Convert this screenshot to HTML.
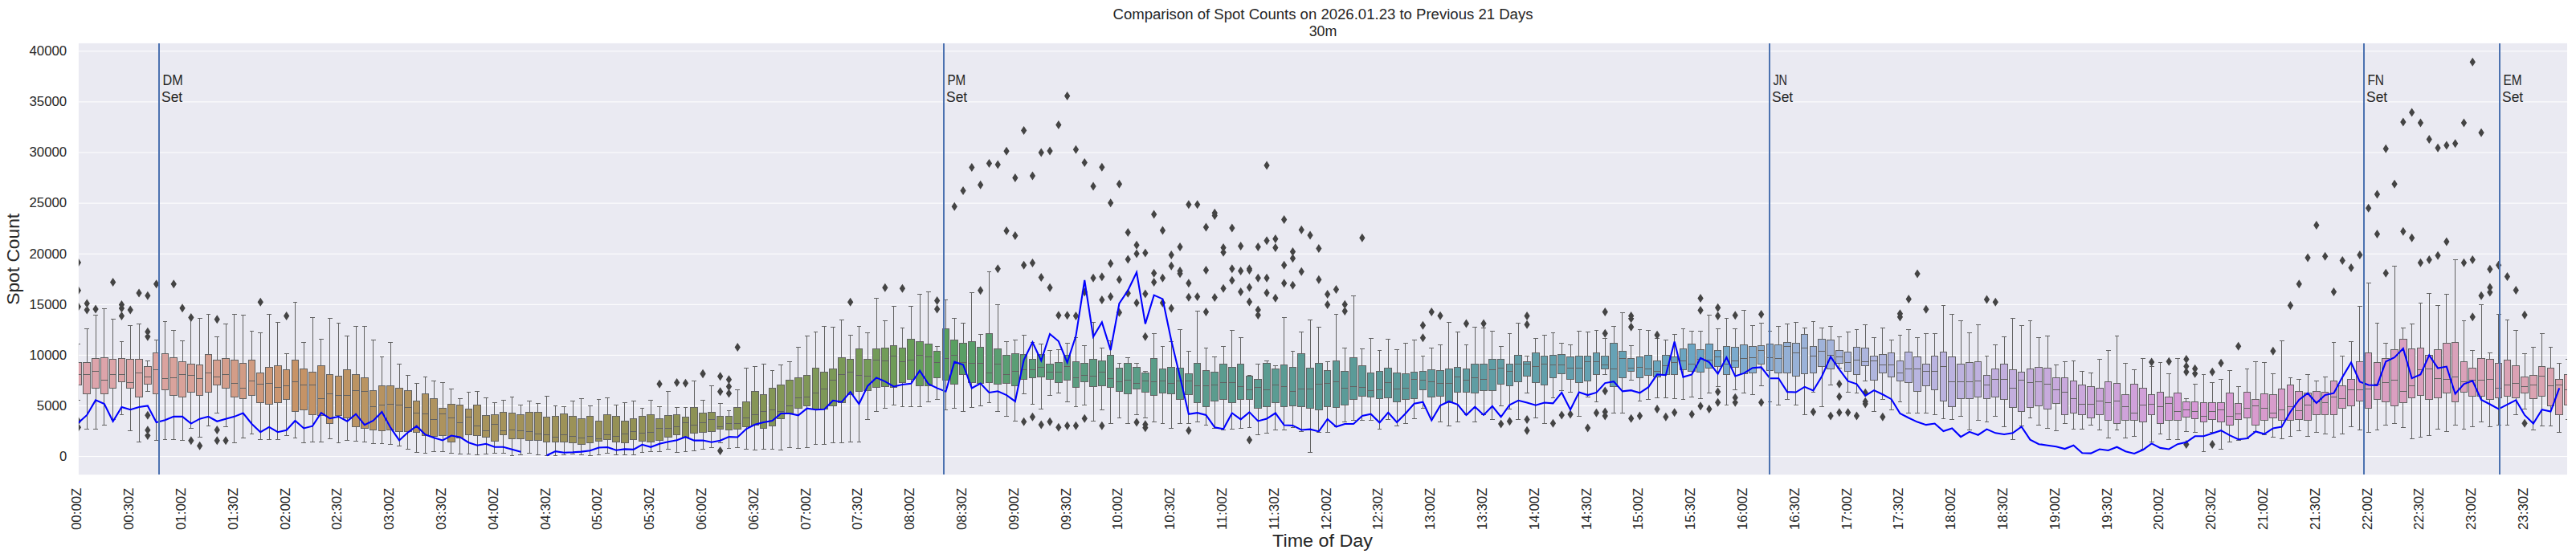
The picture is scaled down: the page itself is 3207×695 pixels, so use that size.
<!DOCTYPE html><html><head><meta charset="utf-8"><title>Spot Counts</title><style>html,body{margin:0;padding:0;background:#fff}body{width:3207px;height:695px;position:relative;overflow:hidden}</style></head><body><svg width="3207" height="695" viewBox="0 0 3207 695" style="position:absolute;left:0;top:0;font-family:'Liberation Sans',sans-serif">
<rect x="0" y="0" width="3207" height="695" fill="#fff"/>
<rect x="97.9" y="53.9" width="3098.1" height="537.3000000000001" fill="#eaeaf2"/>
<clipPath id="cp"><rect x="97.9" y="53.9" width="3098.1" height="537.3000000000001"/></clipPath>
<path d="M97.9 568.60H3196.0M97.9 505.50H3196.0M97.9 442.40H3196.0M97.9 379.30H3196.0M97.9 316.20H3196.0M97.9 253.10H3196.0M97.9 190.00H3196.0M97.9 126.90H3196.0M97.9 63.80H3196.0" stroke="#fff" stroke-width="1.0" fill="none"/>
<g clip-path="url(#cp)">
<path d="M97.45 451.86V428.21M94.55 428.21h5.80M97.45 479.45V498.37M94.55 498.37h5.80M108.25 451.86V409.69M105.35 409.69h5.80M108.25 490.49V534.64M105.35 534.64h5.80M119.05 446.74V392.74M116.15 392.74h5.80M119.05 483.00V534.64M116.15 534.64h5.80M129.85 445.55V384.46M126.95 384.46h5.80M129.85 490.49V529.51M126.95 529.51h5.80M140.65 447.53V397.47M137.75 397.47h5.80M140.65 483.00V522.81M137.75 522.81h5.80M151.45 446.34V425.45M148.55 425.45h5.80M151.45 475.91V516.90M148.55 516.90h5.80M162.25 447.53V405.35M159.35 405.35h5.80M162.25 483.00V536.21M159.35 536.21h5.80M173.05 447.53V403.38M170.15 403.38h5.80M173.05 494.04V550.01M170.15 550.01h5.80M183.85 456.59V449.10M180.95 449.10h5.80M183.85 478.27V487.34M180.95 487.34h5.80M194.65 439.25V423.09M191.75 423.09h5.80M194.65 490.49V548.43M191.75 548.43h5.80M205.45 440.43V400.23M202.55 400.23h5.80M205.45 485.36V547.25M202.55 547.25h5.80M216.25 445.55V411.26M213.35 411.26h5.80M216.25 492.07V547.25M213.35 547.25h5.80M227.05 450.28V424.27M224.15 424.27h5.80M227.05 494.04V548.43M224.15 548.43h5.80M237.85 453.44V394.71M234.95 394.71h5.80M237.85 488.12V533.45M234.95 533.45h5.80M248.65 454.62V396.28M245.75 396.28h5.80M248.65 492.07V544.49M245.75 544.49h5.80M259.45 441.61V391.16M256.55 391.16h5.80M259.45 488.12V530.69M256.55 530.69h5.80M270.25 448.31V419.93M267.35 419.93h5.80M270.25 479.45V514.93M267.35 514.93h5.80M281.05 446.74V403.38M278.15 403.38h5.80M281.05 483.00V531.88M278.15 531.88h5.80M291.85 448.31V391.16M288.95 391.16h5.80M291.85 494.04V551.19M288.95 551.19h5.80M302.65 452.26V392.74M299.75 392.74h5.80M302.65 496.01V545.28M299.75 545.28h5.80M313.45 448.31V412.45M310.55 412.45h5.80M313.45 492.07V540.55M310.55 540.55h5.80M324.25 464.47V414.02M321.35 414.02h5.80M324.25 501.13V547.64M321.35 547.64h5.80M335.05 457.77V391.95M332.15 391.95h5.80M335.05 503.10V547.25M332.15 547.25h5.80M345.85 455.41V401.41M342.95 401.41h5.80M345.85 501.92V547.25M342.95 547.25h5.80M356.65 460.53V440.04M353.75 440.04h5.80M356.65 497.19V542.52M353.75 542.52h5.80M367.45 448.31V376.18M364.55 376.18h5.80M367.45 512.96V545.67M364.55 545.67h5.80M378.25 459.35V426.24M375.35 426.24h5.80M378.25 510.20V551.19M375.35 551.19h5.80M389.05 463.29V395.50M386.15 395.50h5.80M389.05 516.90V550.40M386.15 550.40h5.80M399.85 455.41V422.30M396.95 422.30h5.80M399.85 517.69V550.40M396.95 550.40h5.80M410.65 466.45V396.68M407.75 396.68h5.80M410.65 527.15V546.46M407.75 546.46h5.80M421.45 468.42V402.59M418.55 402.59h5.80M421.45 517.69V551.19M418.55 551.19h5.80M432.25 460.14V418.36M429.35 418.36h5.80M432.25 520.84V548.43M429.35 548.43h5.80M443.05 466.45V406.53M440.15 406.53h5.80M443.05 531.88V549.22M440.15 549.22h5.80M453.85 470.39V406.53M450.95 406.53h5.80M453.85 533.45V550.40M450.95 550.40h5.80M464.65 486.15V423.48M461.75 423.48h5.80M464.65 535.03V552.37M461.75 552.37h5.80M475.45 480.24V444.37M472.55 444.37h5.80M475.45 536.21V552.37M472.55 552.37h5.80M486.25 480.24V426.24M483.35 426.24h5.80M486.25 535.03V553.55M483.35 553.55h5.80M497.05 483.39V453.44M494.15 453.44h5.80M497.05 537.00V555.13M494.15 555.13h5.80M507.85 486.15V467.63M504.95 467.63h5.80M507.85 537.00V559.07M504.95 559.07h5.80M518.65 499.16V477.48M515.75 477.48h5.80M518.65 538.18V563.41M515.75 563.41h5.80M529.45 490.49V469.60M526.55 469.60h5.80M529.45 542.12V564.20M526.55 564.20h5.80M540.25 496.40V474.33M537.35 474.33h5.80M540.25 543.31V562.23M537.35 562.23h5.80M551.05 508.23V476.30M548.15 476.30h5.80M551.05 542.52V562.23M548.15 562.23h5.80M561.85 503.10V484.58M558.95 484.58h5.80M561.85 550.01V564.20M558.95 564.20h5.80M572.65 504.28V496.40M569.75 496.40h5.80M572.65 545.28V565.38M569.75 565.38h5.80M583.45 509.01V488.52M580.55 488.52h5.80M583.45 541.34V565.38M580.55 565.38h5.80M594.25 504.28V487.34M591.35 487.34h5.80M594.25 542.52V566.17M591.35 566.17h5.80M605.05 517.29V495.61M602.15 495.61h5.80M605.05 544.49V565.38M602.15 565.38h5.80M615.85 516.50V501.59M612.95 501.59h5.80M615.85 549.58V564.03M612.95 564.03h5.80M626.65 513.47V498.33M623.75 498.33h5.80M626.65 541.19V564.03M623.75 564.03h5.80M637.45 514.40V494.37M634.55 494.37h5.80M637.45 546.32V567.29M634.55 567.29h5.80M648.25 516.50V504.39M645.35 504.39h5.80M648.25 546.32V566.35M645.35 566.35h5.80M659.05 513.47V499.26M656.15 499.26h5.80M659.05 548.18V564.03M656.15 564.03h5.80M669.85 513.47V502.52M666.95 502.52h5.80M669.85 548.18V566.35M666.95 566.35h5.80M680.65 519.53V493.21M677.75 493.21h5.80M680.65 550.28V567.29M677.75 567.29h5.80M691.45 518.36V505.32M688.55 505.32h5.80M691.45 550.28V567.29M688.55 567.29h5.80M702.25 515.57V506.48M699.35 506.48h5.80M702.25 550.28V566.35M699.35 566.35h5.80M713.05 518.36V499.26M710.15 499.26h5.80M713.05 551.21V565.19M710.15 565.19h5.80M723.85 521.39V496.47M720.95 496.47h5.80M723.85 553.31V566.35M720.95 566.35h5.80M734.65 518.36V505.32M731.75 505.32h5.80M734.65 551.21V567.29M731.75 567.29h5.80M745.45 524.42V497.40M742.55 497.40h5.80M745.45 549.35V566.35M742.55 566.35h5.80M756.25 516.50V495.30M753.35 495.30h5.80M756.25 547.25V564.03M753.35 564.03h5.80M767.05 518.36V504.39M764.15 504.39h5.80M767.05 550.28V566.35M764.15 566.35h5.80M777.85 524.42V501.36M774.95 501.36h5.80M777.85 551.21V566.35M774.95 566.35h5.80M788.65 521.39V499.26M785.75 499.26h5.80M788.65 547.25V566.35M785.75 566.35h5.80M799.45 518.36V508.58M796.55 508.58h5.80M799.45 549.35V563.33M796.55 563.33h5.80M810.25 516.50V498.33M807.35 498.33h5.80M810.25 550.28V562.39M807.35 562.39h5.80M821.05 521.39V506.48M818.15 506.48h5.80M821.05 548.18V562.39M818.15 562.39h5.80M831.85 517.43V487.38M828.95 487.38h5.80M831.85 544.22V559.37M828.95 559.37h5.80M842.65 516.50V507.42M839.75 507.42h5.80M842.65 541.19V563.33M839.75 563.33h5.80M853.45 519.53V507.42M850.55 507.42h5.80M853.45 544.22V562.39M850.55 562.39h5.80M864.25 507.65V474.34M861.35 474.34h5.80M864.25 539.33V561.46M861.35 561.46h5.80M875.05 514.14V498.37M872.15 498.37h5.80M875.05 538.97V559.07M872.15 559.07h5.80M885.85 513.35V480.24M882.95 480.24h5.80M885.85 537.00V557.10M882.95 557.10h5.80M896.65 518.08V502.31M893.75 502.31h5.80M896.65 534.24V551.19M893.75 551.19h5.80M907.45 518.08V511.38M904.55 511.38h5.80M907.45 535.42V558.28M904.55 558.28h5.80M918.25 507.44V485.36M915.35 485.36h5.80M918.25 534.24V557.10M915.35 557.10h5.80M929.05 500.34V458.56M926.15 458.56h5.80M929.05 531.09V559.07M926.15 559.07h5.80M939.85 487.34V456.59M936.95 456.59h5.80M939.85 529.12V560.26M936.95 560.26h5.80M950.65 491.28V453.44M947.75 453.44h5.80M950.65 533.06V559.07M947.75 559.07h5.80M961.45 483.39V461.32M958.55 461.32h5.80M961.45 530.30V559.07M958.55 559.07h5.80M972.25 479.45V454.23M969.35 454.23h5.80M972.25 521.23V560.26M969.35 560.26h5.80M983.05 473.54V450.28M980.15 450.28h5.80M983.05 514.93V557.10M980.15 557.10h5.80M993.85 470.39V432.55M990.95 432.55h5.80M993.85 508.23V558.28M990.95 558.28h5.80M1004.65 467.63V418.36M1001.75 418.36h5.80M1004.65 505.07V557.10M1001.75 557.10h5.80M1015.45 458.56V413.63M1012.55 413.63h5.80M1015.45 509.01V553.16M1012.55 553.16h5.80M1026.25 463.29V406.53M1023.35 406.53h5.80M1026.25 509.01V553.16M1023.35 553.16h5.80M1037.05 459.35V407.32M1034.15 407.32h5.80M1037.05 505.07V551.19M1034.15 551.19h5.80M1047.85 445.55V398.65M1044.95 398.65h5.80M1047.85 501.13V551.19M1044.95 551.19h5.80M1058.65 447.53V417.57M1055.75 417.57h5.80M1058.65 491.28V550.01M1055.75 550.01h5.80M1069.45 434.52V406.53M1066.55 406.53h5.80M1069.45 487.34V550.01M1066.55 550.01h5.80M1080.25 447.53V414.42M1077.35 414.42h5.80M1080.25 486.15V522.02M1077.35 522.02h5.80M1091.05 434.52V371.06M1088.15 371.06h5.80M1091.05 482.21V512.17M1088.15 512.17h5.80M1101.85 433.73V399.44M1098.95 399.44h5.80M1101.85 481.42V508.23M1098.95 508.23h5.80M1112.65 430.58V381.31M1109.75 381.31h5.80M1112.65 482.21V504.28M1109.75 504.28h5.80M1123.45 433.73V408.50M1120.55 408.50h5.80M1123.45 476.30V506.26M1120.55 506.26h5.80M1134.25 422.30V381.31M1131.35 381.31h5.80M1134.25 472.36V506.26M1131.35 506.26h5.80M1145.05 425.45V366.33M1142.15 366.33h5.80M1145.05 480.24V506.26M1142.15 506.26h5.80M1155.85 428.21V363.57M1152.95 363.57h5.80M1155.85 480.24V500.34M1152.95 500.34h5.80M1166.65 437.28V431.36M1163.75 431.36h5.80M1166.65 470.39V497.19M1163.75 497.19h5.80M1177.45 409.29V373.42M1174.55 373.42h5.80M1177.45 473.54V510.99M1174.55 510.99h5.80M1188.25 423.48V396.68M1185.35 396.68h5.80M1188.25 478.27V508.23M1185.35 508.23h5.80M1199.05 427.42V402.59M1196.15 402.59h5.80M1199.05 466.45V512.96M1196.15 512.96h5.80M1209.85 425.45V364.36M1206.95 364.36h5.80M1209.85 476.30V507.04M1206.95 507.04h5.80M1220.65 432.55V416.39M1217.75 416.39h5.80M1220.65 477.48V505.07M1217.75 505.07h5.80M1231.45 415.20V338.34M1228.55 338.34h5.80M1231.45 476.30V501.13M1228.55 501.13h5.80M1242.25 434.52V379.34M1239.35 379.34h5.80M1242.25 478.27V512.17M1239.35 512.17h5.80M1253.05 442.40V425.45M1250.15 425.45h5.80M1253.05 477.48V518.87M1250.15 518.87h5.80M1263.85 440.43V423.48M1260.95 423.48h5.80M1263.85 480.24V524.78M1260.95 524.78h5.80M1274.65 441.22V417.18M1271.75 417.18h5.80M1274.65 472.36V490.09M1271.75 490.09h5.80M1285.45 447.13V426.24M1282.55 426.24h5.80M1285.45 470.39V503.10M1282.55 503.10h5.80M1296.25 441.61V428.21M1293.35 428.21h5.80M1296.25 469.20V509.01M1293.35 509.01h5.80M1307.05 453.44V436.09M1304.15 436.09h5.80M1307.05 472.36V492.46M1304.15 492.46h5.80M1317.85 451.47V435.31M1314.95 435.31h5.80M1317.85 476.30V489.31M1314.95 489.31h5.80M1328.65 442.40V427.42M1325.75 427.42h5.80M1328.65 473.54V500.34M1325.75 500.34h5.80M1339.45 450.28V420.33M1336.55 420.33h5.80M1339.45 482.21V506.26M1336.55 506.26h5.80M1350.25 452.26V430.18M1347.35 430.18h5.80M1350.25 475.51V504.28M1347.35 504.28h5.80M1361.05 447.53V401.41M1358.15 401.41h5.80M1361.05 481.42V524.78M1358.15 524.78h5.80M1371.85 449.10V433.34M1368.95 433.34h5.80M1371.85 480.24V510.99M1368.95 510.99h5.80M1382.65 442.40V424.27M1379.75 424.27h5.80M1382.65 482.21V527.93M1379.75 527.93h5.80M1393.45 458.17V452.26M1390.55 452.26h5.80M1393.45 487.34V520.84M1390.55 520.84h5.80M1404.25 452.26V445.16M1401.35 445.16h5.80M1404.25 490.09V527.93M1401.35 527.93h5.80M1415.05 457.38V452.26M1412.15 452.26h5.80M1415.05 484.18V516.90M1412.15 516.90h5.80M1425.85 464.08V462.11M1422.95 462.11h5.80M1425.85 488.12V520.05M1422.95 520.05h5.80M1436.65 446.34V415.20M1433.75 415.20h5.80M1436.65 492.07V525.96M1433.75 525.96h5.80M1447.45 459.35V431.36M1444.55 431.36h5.80M1447.45 489.31V527.15M1444.55 527.15h5.80M1458.25 457.38V425.45M1455.35 425.45h5.80M1458.25 490.09V533.06M1455.35 533.06h5.80M1469.05 458.17V410.47M1466.15 410.47h5.80M1469.05 497.19V527.15M1466.15 527.15h5.80M1479.85 465.26V437.28M1476.95 437.28h5.80M1479.85 491.28V527.15M1476.95 527.15h5.80M1490.65 452.26V387.61M1487.75 387.61h5.80M1490.65 501.13V525.18M1487.75 525.18h5.80M1501.45 461.32V433.34M1498.55 433.34h5.80M1501.45 506.26V529.91M1498.55 529.91h5.80M1512.25 463.29V444.37M1509.35 444.37h5.80M1512.25 499.16V533.06M1509.35 533.06h5.80M1523.05 453.44V431.36M1520.15 431.36h5.80M1523.05 497.98V535.03M1520.15 535.03h5.80M1533.85 457.38V411.26M1530.95 411.26h5.80M1533.85 501.13V534.24M1530.95 534.24h5.80M1544.65 453.44V420.33M1541.75 420.33h5.80M1544.65 497.19V533.06M1541.75 533.06h5.80M1555.45 468.42V467.23M1552.55 467.23h5.80M1555.45 497.98V532.27M1552.55 532.27h5.80M1566.25 472.36V453.44M1563.35 453.44h5.80M1566.25 508.23V541.34M1563.35 541.34h5.80M1577.05 452.26V449.10M1574.15 449.10h5.80M1577.05 506.26V539.36M1574.15 539.36h5.80M1587.85 459.35V455.41M1584.95 455.41h5.80M1587.85 501.13V535.03M1584.95 535.03h5.80M1598.65 454.23V395.50M1595.75 395.50h5.80M1598.65 506.26V535.03M1595.75 535.03h5.80M1609.45 457.38V437.28M1606.55 437.28h5.80M1609.45 505.07V532.27M1606.55 532.27h5.80M1620.25 440.43V413.23M1617.35 413.23h5.80M1620.25 506.26V537.00M1617.35 537.00h5.80M1631.05 458.17V398.65M1628.15 398.65h5.80M1631.05 508.23V563.41M1628.15 563.41h5.80M1641.85 452.26V407.32M1638.95 407.32h5.80M1641.85 510.20V538.18M1638.95 538.18h5.80M1652.65 461.32V450.28M1649.75 450.28h5.80M1652.65 506.26V538.18M1649.75 538.18h5.80M1663.45 449.10V391.55M1660.55 391.55h5.80M1663.45 507.44V531.09M1660.55 531.09h5.80M1674.25 462.11V433.34M1671.35 433.34h5.80M1674.25 504.28V525.18M1671.35 525.18h5.80M1685.05 445.55V368.50M1682.15 368.50h5.80M1685.05 497.98V523.99M1682.15 523.99h5.80M1695.85 455.41V434.52M1692.95 434.52h5.80M1695.85 493.25V523.20M1692.95 523.20h5.80M1706.65 464.47V421.51M1703.75 421.51h5.80M1706.65 494.04V523.99M1703.75 523.99h5.80M1717.45 462.50V436.49M1714.55 436.49h5.80M1717.45 496.40V534.24M1714.55 534.24h5.80M1728.25 458.17V422.30M1725.35 422.30h5.80M1728.25 495.22V522.02M1725.35 522.02h5.80M1739.05 464.47V435.31M1736.15 435.31h5.80M1739.05 500.34V530.30M1736.15 530.30h5.80M1749.85 465.26V427.42M1746.95 427.42h5.80M1749.85 497.19V527.15M1746.95 527.15h5.80M1760.65 463.29V423.48M1757.75 423.48h5.80M1760.65 496.40V521.23M1757.75 521.23h5.80M1771.45 462.11V443.58M1768.55 443.58h5.80M1771.45 485.36V508.23M1768.55 508.23h5.80M1782.25 460.14V433.34M1779.35 433.34h5.80M1782.25 494.04V519.26M1779.35 519.26h5.80M1793.05 461.32V429.39M1790.15 429.39h5.80M1793.05 493.25V525.18M1790.15 525.18h5.80M1803.85 459.35V401.41M1800.95 401.41h5.80M1803.85 501.13V530.30M1800.95 530.30h5.80M1814.65 457.38V413.63M1811.75 413.63h5.80M1814.65 488.12V525.18M1811.75 525.18h5.80M1825.45 459.35V429.39M1822.55 429.39h5.80M1825.45 488.12V516.11M1822.55 516.11h5.80M1836.25 453.44V407.32M1833.35 407.32h5.80M1836.25 489.31V525.96M1833.35 525.96h5.80M1847.05 453.44V408.50M1844.15 408.50h5.80M1847.05 486.15V516.11M1844.15 516.11h5.80M1857.85 447.53V412.45M1854.95 412.45h5.80M1857.85 486.15V522.02M1854.95 522.02h5.80M1868.65 447.53V431.36M1865.75 431.36h5.80M1868.65 478.27V505.07M1865.75 505.07h5.80M1879.45 453.44V415.20M1876.55 415.20h5.80M1879.45 480.24V509.01M1876.55 509.01h5.80M1890.25 442.40V402.59M1887.35 402.59h5.80M1890.25 475.51V522.02M1887.35 522.02h5.80M1901.05 450.28V443.58M1898.15 443.58h5.80M1901.05 468.42V489.31M1898.15 489.31h5.80M1911.85 439.25V421.51M1908.95 421.51h5.80M1911.85 476.30V520.05M1908.95 520.05h5.80M1922.65 443.58V417.57M1919.75 417.57h5.80M1922.65 479.45V527.15M1919.75 527.15h5.80M1933.45 442.40V414.42M1930.55 414.42h5.80M1933.45 470.39V495.22M1930.55 495.22h5.80M1944.25 441.22V427.42M1941.35 427.42h5.80M1944.25 465.26V486.15M1941.35 486.15h5.80M1955.05 444.37V429.39M1952.15 429.39h5.80M1955.05 472.36V488.12M1952.15 488.12h5.80M1965.85 443.58V412.45M1962.95 412.45h5.80M1965.85 476.30V518.08M1962.95 518.08h5.80M1976.65 443.58V413.63M1973.75 413.63h5.80M1976.65 474.33V494.43M1973.75 494.43h5.80M1987.45 439.25V411.26M1984.55 411.26h5.80M1987.45 466.45V500.34M1984.55 500.34h5.80M1998.25 443.58V421.51M1995.35 421.51h5.80M1998.25 459.35V466.45M1995.35 466.45h5.80M2009.05 427.42V406.53M2006.15 406.53h5.80M2009.05 481.42V514.93M2006.15 514.93h5.80M2019.85 437.28V389.58M2016.95 389.58h5.80M2019.85 470.39V514.93M2016.95 514.93h5.80M2030.65 446.34V430.58M2027.75 430.58h5.80M2030.65 462.11V473.54M2027.75 473.54h5.80M2041.45 444.37V410.47M2038.55 410.47h5.80M2041.45 470.39V499.16M2038.55 499.16h5.80M2052.25 442.40V411.26M2049.35 411.26h5.80M2052.25 467.23V497.98M2049.35 497.98h5.80M2063.05 449.10V421.51M2060.15 421.51h5.80M2063.05 469.20V495.22M2060.15 495.22h5.80M2073.85 442.40V423.48M2070.95 423.48h5.80M2073.85 466.45V495.22M2070.95 495.22h5.80M2084.65 444.37V416.39M2081.75 416.39h5.80M2084.65 466.45V496.40M2081.75 496.40h5.80M2095.45 434.52V409.29M2092.55 409.29h5.80M2095.45 460.53V497.19M2092.55 497.19h5.80M2106.25 428.21V412.45M2103.35 412.45h5.80M2106.25 462.50V494.43M2103.35 494.43h5.80M2117.05 435.31V412.45M2114.15 412.45h5.80M2117.05 463.29V496.40M2114.15 496.40h5.80M2127.85 428.21V392.34M2124.95 392.34h5.80M2127.85 458.17V489.31M2124.95 489.31h5.80M2138.65 436.49V409.29M2135.75 409.29h5.80M2138.65 456.59V481.42M2135.75 481.42h5.80M2149.45 431.36V396.68M2146.55 396.68h5.80M2149.45 466.45V504.28M2146.55 504.28h5.80M2160.25 432.55V409.29M2157.35 409.29h5.80M2160.25 457.38V485.36M2157.35 485.36h5.80M2171.05 429.39V386.82M2168.15 386.82h5.80M2171.05 465.26V489.31M2168.15 489.31h5.80M2181.85 431.36V405.35M2178.95 405.35h5.80M2181.85 464.08V491.28M2178.95 491.28h5.80M2192.65 430.58V402.59M2189.75 402.59h5.80M2192.65 453.44V480.24M2189.75 480.24h5.80M2203.45 428.21V412.45M2200.55 412.45h5.80M2203.45 461.32V500.34M2200.55 500.34h5.80M2214.25 429.39V406.53M2211.35 406.53h5.80M2214.25 464.08V504.28M2211.35 504.28h5.80M2225.05 426.24V403.38M2222.15 403.38h5.80M2225.05 464.08V497.19M2222.15 497.19h5.80M2235.85 427.42V401.41M2232.95 401.41h5.80M2235.85 468.42V504.28M2232.95 504.28h5.80M2246.65 416.39V408.50M2243.75 408.50h5.80M2246.65 465.26V516.90M2243.75 516.90h5.80M2257.45 431.36V400.23M2254.55 400.23h5.80M2257.45 464.08V488.12M2254.55 488.12h5.80M2268.25 422.30V408.50M2265.35 408.50h5.80M2268.25 456.20V506.26M2265.35 506.26h5.80M2279.05 423.48V406.53M2276.15 406.53h5.80M2279.05 459.35V479.45M2276.15 479.45h5.80M2289.85 436.49V419.54M2286.95 419.54h5.80M2289.85 452.26V458.17M2286.95 458.17h5.80M2300.65 438.46V413.23M2297.75 413.23h5.80M2300.65 462.11V488.12M2297.75 488.12h5.80M2311.45 432.55V410.47M2308.55 410.47h5.80M2311.45 466.45V489.31M2308.55 489.31h5.80M2322.25 433.34V404.17M2319.35 404.17h5.80M2322.25 455.41V474.33M2319.35 474.33h5.80M2333.05 443.58V420.33M2330.15 420.33h5.80M2333.05 473.15V512.96M2330.15 512.96h5.80M2343.85 441.22V408.50M2340.95 408.50h5.80M2343.85 464.08V497.98M2340.95 497.98h5.80M2354.65 439.25V423.48M2351.75 423.48h5.80M2354.65 469.20V510.99M2351.75 510.99h5.80M2365.45 449.10V417.57M2362.55 417.57h5.80M2365.45 474.33V500.34M2362.55 500.34h5.80M2376.25 438.46V410.47M2373.35 410.47h5.80M2376.25 476.30V514.93M2373.35 514.93h5.80M2387.05 444.37V420.33M2384.15 420.33h5.80M2387.05 487.34V514.93M2384.15 514.93h5.80M2397.85 453.44V415.20M2394.95 415.20h5.80M2397.85 480.24V514.14M2394.95 514.14h5.80M2408.65 443.58V415.20M2405.75 415.20h5.80M2408.65 485.36V516.90M2405.75 516.90h5.80M2419.45 438.46V380.52M2416.55 380.52h5.80M2419.45 499.16V521.23M2416.55 521.23h5.80M2430.25 444.37V391.55M2427.35 391.55h5.80M2430.25 506.26V522.02M2427.35 522.02h5.80M2441.05 453.44V399.44M2438.15 399.44h5.80M2441.05 496.40V518.08M2438.15 518.08h5.80M2451.85 451.47V414.42M2448.95 414.42h5.80M2451.85 496.40V535.03M2448.95 535.03h5.80M2462.65 450.28V404.17M2459.75 404.17h5.80M2462.65 494.04V523.99M2459.75 523.99h5.80M2473.45 467.23V443.19M2470.55 443.19h5.80M2473.45 496.40V525.96M2470.55 525.96h5.80M2484.25 459.35V429.39M2481.35 429.39h5.80M2484.25 494.04V518.08M2481.35 518.08h5.80M2495.05 453.44V419.54M2492.15 419.54h5.80M2495.05 497.98V531.09M2492.15 531.09h5.80M2505.85 460.14V396.68M2502.95 396.68h5.80M2505.85 507.44V547.64M2502.95 547.64h5.80M2516.65 463.29V405.35M2513.75 405.35h5.80M2516.65 512.17V530.30M2513.75 530.30h5.80M2527.45 459.35V399.44M2524.55 399.44h5.80M2527.45 507.44V520.05M2524.55 520.05h5.80M2538.25 457.38V420.33M2535.35 420.33h5.80M2538.25 505.07V529.91M2535.35 529.91h5.80M2549.05 458.17V418.36M2546.15 418.36h5.80M2549.05 509.01V533.06M2546.15 533.06h5.80M2559.85 470.39V454.23M2556.95 454.23h5.80M2559.85 502.31V536.21M2556.95 536.21h5.80M2570.65 470.39V450.28M2567.75 450.28h5.80M2570.65 516.11V527.93M2567.75 527.93h5.80M2581.45 474.33V449.10M2578.55 449.10h5.80M2581.45 514.93V534.24M2578.55 534.24h5.80M2592.25 479.45V462.50M2589.35 462.50h5.80M2592.25 516.90V534.24M2589.35 534.24h5.80M2603.05 481.42V464.47M2600.15 464.47h5.80M2603.05 520.05V529.12M2600.15 529.12h5.80M2613.85 483.39V447.53M2610.95 447.53h5.80M2613.85 516.90V535.03M2610.95 535.03h5.80M2624.65 475.51V436.49M2621.75 436.49h5.80M2624.65 523.20V545.28M2621.75 545.28h5.80M2635.45 477.48V418.36M2632.55 418.36h5.80M2635.45 527.15V535.03M2632.55 535.03h5.80M2646.25 491.28V452.26M2643.35 452.26h5.80M2646.25 523.20V545.28M2643.35 545.28h5.80M2657.05 478.27V460.14M2654.15 460.14h5.80M2657.05 523.20V543.31M2654.15 543.31h5.80M2667.85 483.39V446.34M2664.95 446.34h5.80M2667.85 525.18V559.07M2664.95 559.07h5.80M2678.65 491.28V456.20M2675.75 456.20h5.80M2678.65 516.90V550.40M2675.75 550.40h5.80M2689.45 488.12V451.07M2686.55 451.07h5.80M2689.45 527.93V540.15M2686.55 540.15h5.80M2700.25 494.04V465.26M2697.35 465.26h5.80M2700.25 523.20V547.64M2697.35 547.64h5.80M2711.05 489.31V446.34M2708.15 446.34h5.80M2711.05 523.20V547.64M2708.15 547.64h5.80M2721.85 500.34V496.40M2718.95 496.40h5.80M2721.85 519.26V537.00M2718.95 537.00h5.80M2732.65 500.34V478.27M2729.75 478.27h5.80M2732.65 521.23V538.18M2729.75 538.18h5.80M2743.45 501.13V466.45M2740.55 466.45h5.80M2743.45 525.96V562.23M2740.55 562.23h5.80M2754.25 501.13V476.30M2751.35 476.30h5.80M2754.25 522.42V538.18M2751.35 538.18h5.80M2765.05 501.13V472.36M2762.15 472.36h5.80M2765.05 525.18V559.07M2762.15 559.07h5.80M2775.85 489.31V461.32M2772.95 461.32h5.80M2775.85 529.12V550.40M2772.95 550.40h5.80M2786.65 502.31V481.42M2783.75 481.42h5.80M2786.65 522.42V548.43M2783.75 548.43h5.80M2797.45 488.12V459.35M2794.55 459.35h5.80M2797.45 520.05V546.46M2794.55 546.46h5.80M2808.25 497.19V450.28M2805.35 450.28h5.80M2808.25 529.12V537.39M2805.35 537.39h5.80M2819.05 490.09V451.47M2816.15 451.47h5.80M2819.05 523.99V541.34M2816.15 541.34h5.80M2829.85 491.28V465.26M2826.95 465.26h5.80M2829.85 520.05V544.49M2826.95 544.49h5.80M2840.65 484.18V424.27M2837.75 424.27h5.80M2840.65 523.99V546.46M2837.75 546.46h5.80M2851.45 479.45V470.39M2848.55 470.39h5.80M2851.45 523.99V543.31M2848.55 543.31h5.80M2862.25 487.34V472.36M2859.35 472.36h5.80M2862.25 522.02V536.21M2859.35 536.21h5.80M2873.05 489.31V466.45M2870.15 466.45h5.80M2873.05 523.99V543.31M2870.15 543.31h5.80M2883.85 487.34V474.33M2880.95 474.33h5.80M2883.85 516.90V538.18M2880.95 538.18h5.80M2894.65 488.12V469.20M2891.75 469.20h5.80M2894.65 516.90V540.15M2891.75 540.15h5.80M2905.45 474.33V426.24M2902.55 426.24h5.80M2905.45 516.90V544.49M2902.55 544.49h5.80M2916.25 480.24V443.19M2913.35 443.19h5.80M2916.25 508.23V540.15M2913.35 540.15h5.80M2927.05 472.36V425.45M2924.15 425.45h5.80M2927.05 505.07V531.09M2924.15 531.09h5.80M2937.85 450.28V381.31M2934.95 381.31h5.80M2937.85 499.16V535.03M2934.95 535.03h5.80M2948.65 439.25V352.69M2945.75 352.69h5.80M2948.65 508.23V538.18M2945.75 538.18h5.80M2959.45 451.47V402.59M2956.55 402.59h5.80M2959.45 497.19V535.03M2956.55 535.03h5.80M2970.25 446.34V427.42M2967.35 427.42h5.80M2970.25 500.34V529.12M2967.35 529.12h5.80M2981.05 435.31V331.09M2978.15 331.09h5.80M2981.05 505.07V527.93M2978.15 527.93h5.80M2991.85 422.30V408.50M2988.95 408.50h5.80M2991.85 501.13V532.27M2988.95 532.27h5.80M3002.65 434.52V403.38M2999.75 403.38h5.80M3002.65 495.22V546.46M2999.75 546.46h5.80M3013.45 433.34V377.36M3010.55 377.36h5.80M3013.45 492.07V544.49M3010.55 544.49h5.80M3024.25 442.40V365.30M3021.35 365.30h5.80M3024.25 497.98V542.12M3021.35 542.12h5.80M3035.05 435.31V380.52M3032.15 380.52h5.80M3035.05 495.22V534.24M3032.15 534.24h5.80M3045.85 427.42V366.29M3042.95 366.29h5.80M3045.85 489.31V537.00M3042.95 537.00h5.80M3056.65 426.24V323.40M3053.75 323.40h5.80M3056.65 500.34V529.12M3053.75 529.12h5.80M3067.45 450.28V399.44M3064.55 399.44h5.80M3067.45 488.12V534.24M3064.55 534.24h5.80M3078.25 458.17V436.49M3075.35 436.49h5.80M3078.25 493.25V531.09M3075.35 531.09h5.80M3089.05 446.34V379.34M3086.15 379.34h5.80M3089.05 493.25V525.18M3086.15 525.18h5.80M3099.85 447.53V439.25M3096.95 439.25h5.80M3099.85 497.19V531.09M3096.95 531.09h5.80M3110.65 452.26V391.55M3107.75 391.55h5.80M3110.65 495.22V529.12M3107.75 529.12h5.80M3121.45 448.31V398.65M3118.55 398.65h5.80M3121.45 493.25V529.12M3118.55 529.12h5.80M3132.25 455.41V411.26M3129.35 411.26h5.80M3132.25 495.22V516.90M3129.35 516.90h5.80M3143.05 469.20V440.43M3140.15 440.43h5.80M3143.05 489.31V509.01M3140.15 509.01h5.80M3153.85 467.23V432.55M3150.95 432.55h5.80M3153.85 496.40V535.03M3150.95 535.03h5.80M3164.65 456.59V415.20M3161.75 415.20h5.80M3164.65 493.25V530.30M3161.75 530.30h5.80M3175.45 458.17V432.55M3172.55 432.55h5.80M3175.45 505.07V530.30M3172.55 530.30h5.80M3186.25 472.36V452.26M3183.35 452.26h5.80M3186.25 516.90V538.97M3183.35 538.97h5.80M3197.05 466.45V447.13M3194.15 447.13h5.80M3197.05 504.28V522.02M3194.15 522.02h5.80" stroke="#626262" stroke-width="1" fill="none" stroke-linecap="butt" shape-rendering="crispEdges"/>
<path d="M93.13 451.86h8.64V479.45h-8.64ZM93.13 466.45h8.64" fill="#dca4ad" stroke="#626262" stroke-width="1" shape-rendering="crispEdges"/>
<path d="M103.93 451.86h8.64V490.49h-8.64ZM103.93 466.45h8.64" fill="#dca4ac" stroke="#626262" stroke-width="1" shape-rendering="crispEdges"/>
<path d="M114.73 446.74h8.64V483.00h-8.64ZM114.73 462.11h8.64" fill="#dca4ab" stroke="#626262" stroke-width="1" shape-rendering="crispEdges"/>
<path d="M125.53 445.55h8.64V490.49h-8.64ZM125.53 473.15h8.64" fill="#dca4aa" stroke="#626262" stroke-width="1" shape-rendering="crispEdges"/>
<path d="M136.33 447.53h8.64V483.00h-8.64ZM136.33 466.45h8.64" fill="#dca5a8" stroke="#626262" stroke-width="1" shape-rendering="crispEdges"/>
<path d="M147.13 446.34h8.64V475.91h-8.64ZM147.13 466.45h8.64" fill="#dca5a7" stroke="#626262" stroke-width="1" shape-rendering="crispEdges"/>
<path d="M157.93 447.53h8.64V483.00h-8.64ZM157.93 476.30h8.64" fill="#dca5a6" stroke="#626262" stroke-width="1" shape-rendering="crispEdges"/>
<path d="M168.73 447.53h8.64V494.04h-8.64ZM168.73 464.08h8.64" fill="#dca5a5" stroke="#626262" stroke-width="1" shape-rendering="crispEdges"/>
<path d="M179.53 456.59h8.64V478.27h-8.64ZM179.53 469.99h8.64" fill="#dba4a3" stroke="#626262" stroke-width="1" shape-rendering="crispEdges"/>
<path d="M190.33 439.25h8.64V490.49h-8.64ZM190.33 460.14h8.64" fill="#dba4a1" stroke="#626262" stroke-width="1" shape-rendering="crispEdges"/>
<path d="M201.13 440.43h8.64V485.36h-8.64ZM201.13 471.96h8.64" fill="#daa39f" stroke="#626262" stroke-width="1" shape-rendering="crispEdges"/>
<path d="M211.93 445.55h8.64V492.07h-8.64ZM211.93 470.78h8.64" fill="#d9a39c" stroke="#626262" stroke-width="1" shape-rendering="crispEdges"/>
<path d="M222.73 450.28h8.64V494.04h-8.64ZM222.73 466.45h8.64" fill="#d9a29a" stroke="#626262" stroke-width="1" shape-rendering="crispEdges"/>
<path d="M233.53 453.44h8.64V488.12h-8.64ZM233.53 467.63h8.64" fill="#d8a197" stroke="#626262" stroke-width="1" shape-rendering="crispEdges"/>
<path d="M244.33 454.62h8.64V492.07h-8.64ZM244.33 471.96h8.64" fill="#d7a195" stroke="#626262" stroke-width="1" shape-rendering="crispEdges"/>
<path d="M255.13 441.61h8.64V488.12h-8.64ZM255.13 464.08h8.64" fill="#d6a092" stroke="#626262" stroke-width="1" shape-rendering="crispEdges"/>
<path d="M265.93 448.31h8.64V479.45h-8.64ZM265.93 469.60h8.64" fill="#d59f8f" stroke="#626262" stroke-width="1" shape-rendering="crispEdges"/>
<path d="M276.73 446.74h8.64V483.00h-8.64ZM276.73 466.45h8.64" fill="#d49e8c" stroke="#626262" stroke-width="1" shape-rendering="crispEdges"/>
<path d="M287.53 448.31h8.64V494.04h-8.64ZM287.53 477.09h8.64" fill="#d39d88" stroke="#626262" stroke-width="1" shape-rendering="crispEdges"/>
<path d="M298.33 452.26h8.64V496.01h-8.64ZM298.33 483.00h8.64" fill="#d29c85" stroke="#626262" stroke-width="1" shape-rendering="crispEdges"/>
<path d="M309.13 448.31h8.64V492.07h-8.64ZM309.13 474.33h8.64" fill="#d09b81" stroke="#626262" stroke-width="1" shape-rendering="crispEdges"/>
<path d="M319.93 464.47h8.64V501.13h-8.64ZM319.93 478.27h8.64" fill="#cf997c" stroke="#626262" stroke-width="1" shape-rendering="crispEdges"/>
<path d="M330.73 457.77h8.64V503.10h-8.64ZM330.73 477.48h8.64" fill="#cd9877" stroke="#626262" stroke-width="1" shape-rendering="crispEdges"/>
<path d="M341.53 455.41h8.64V501.92h-8.64ZM341.53 482.21h8.64" fill="#cb9671" stroke="#626262" stroke-width="1" shape-rendering="crispEdges"/>
<path d="M352.33 460.53h8.64V497.19h-8.64ZM352.33 480.24h8.64" fill="#c9946a" stroke="#626262" stroke-width="1" shape-rendering="crispEdges"/>
<path d="M363.13 448.31h8.64V512.96h-8.64ZM363.13 475.51h8.64" fill="#c79367" stroke="#626262" stroke-width="1" shape-rendering="crispEdges"/>
<path d="M373.93 459.35h8.64V510.20h-8.64ZM373.93 479.45h8.64" fill="#c59366" stroke="#626262" stroke-width="1" shape-rendering="crispEdges"/>
<path d="M384.73 463.29h8.64V516.90h-8.64ZM384.73 479.45h8.64" fill="#c39366" stroke="#626262" stroke-width="1" shape-rendering="crispEdges"/>
<path d="M395.53 455.41h8.64V517.69h-8.64ZM395.53 496.40h8.64" fill="#c19365" stroke="#626262" stroke-width="1" shape-rendering="crispEdges"/>
<path d="M406.33 466.45h8.64V527.15h-8.64ZM406.33 490.49h8.64" fill="#c09364" stroke="#626262" stroke-width="1" shape-rendering="crispEdges"/>
<path d="M417.13 468.42h8.64V517.69h-8.64ZM417.13 492.46h8.64" fill="#be9364" stroke="#626262" stroke-width="1" shape-rendering="crispEdges"/>
<path d="M427.93 460.14h8.64V520.84h-8.64ZM427.93 492.46h8.64" fill="#bd9363" stroke="#626262" stroke-width="1" shape-rendering="crispEdges"/>
<path d="M438.73 466.45h8.64V531.88h-8.64ZM438.73 486.55h8.64" fill="#bb9463" stroke="#626262" stroke-width="1" shape-rendering="crispEdges"/>
<path d="M449.53 470.39h8.64V533.45h-8.64ZM449.53 487.34h8.64" fill="#b99462" stroke="#626262" stroke-width="1" shape-rendering="crispEdges"/>
<path d="M460.33 486.15h8.64V535.03h-8.64ZM460.33 506.26h8.64" fill="#b89462" stroke="#626262" stroke-width="1" shape-rendering="crispEdges"/>
<path d="M471.13 480.24h8.64V536.21h-8.64ZM471.13 504.28h8.64" fill="#b79361" stroke="#626262" stroke-width="1" shape-rendering="crispEdges"/>
<path d="M481.93 480.24h8.64V535.03h-8.64ZM481.93 503.10h8.64" fill="#b59361" stroke="#626262" stroke-width="1" shape-rendering="crispEdges"/>
<path d="M492.73 483.39h8.64V537.00h-8.64ZM492.73 504.28h8.64" fill="#b49360" stroke="#626262" stroke-width="1" shape-rendering="crispEdges"/>
<path d="M503.53 486.15h8.64V537.00h-8.64ZM503.53 507.44h8.64" fill="#b29360" stroke="#626262" stroke-width="1" shape-rendering="crispEdges"/>
<path d="M514.33 499.16h8.64V538.18h-8.64ZM514.33 514.14h8.64" fill="#b1935f" stroke="#626262" stroke-width="1" shape-rendering="crispEdges"/>
<path d="M525.13 490.49h8.64V542.12h-8.64ZM525.13 515.32h8.64" fill="#b0935f" stroke="#626262" stroke-width="1" shape-rendering="crispEdges"/>
<path d="M535.93 496.40h8.64V543.31h-8.64ZM535.93 522.42h8.64" fill="#af935f" stroke="#626262" stroke-width="1" shape-rendering="crispEdges"/>
<path d="M546.73 508.23h8.64V542.52h-8.64ZM546.73 515.32h8.64" fill="#ad935e" stroke="#626262" stroke-width="1" shape-rendering="crispEdges"/>
<path d="M557.53 503.10h8.64V550.01h-8.64ZM557.53 520.45h8.64" fill="#ac935e" stroke="#626262" stroke-width="1" shape-rendering="crispEdges"/>
<path d="M568.33 504.28h8.64V545.28h-8.64ZM568.33 526.36h8.64" fill="#ab935d" stroke="#626262" stroke-width="1" shape-rendering="crispEdges"/>
<path d="M579.13 509.01h8.64V541.34h-8.64ZM579.13 519.26h8.64" fill="#aa935d" stroke="#626262" stroke-width="1" shape-rendering="crispEdges"/>
<path d="M589.93 504.28h8.64V542.52h-8.64ZM589.93 530.30h8.64" fill="#a8935c" stroke="#626262" stroke-width="1" shape-rendering="crispEdges"/>
<path d="M600.73 517.29h8.64V544.49h-8.64ZM600.73 536.21h8.64" fill="#a7935c" stroke="#626262" stroke-width="1" shape-rendering="crispEdges"/>
<path d="M611.53 516.50h8.64V549.58h-8.64ZM611.53 528.38h8.64" fill="#a6935c" stroke="#626262" stroke-width="1" shape-rendering="crispEdges"/>
<path d="M622.33 513.47h8.64V541.19h-8.64ZM622.33 536.54h8.64" fill="#a5935b" stroke="#626262" stroke-width="1" shape-rendering="crispEdges"/>
<path d="M633.13 514.40h8.64V546.32h-8.64ZM633.13 535.37h8.64" fill="#a4935b" stroke="#626262" stroke-width="1" shape-rendering="crispEdges"/>
<path d="M643.93 516.50h8.64V546.32h-8.64ZM643.93 536.54h8.64" fill="#a2925a" stroke="#626262" stroke-width="1" shape-rendering="crispEdges"/>
<path d="M654.73 513.47h8.64V548.18h-8.64ZM654.73 537.23h8.64" fill="#a1925a" stroke="#626262" stroke-width="1" shape-rendering="crispEdges"/>
<path d="M665.53 513.47h8.64V548.18h-8.64ZM665.53 540.26h8.64" fill="#a0925a" stroke="#626262" stroke-width="1" shape-rendering="crispEdges"/>
<path d="M676.33 519.53h8.64V550.28h-8.64ZM676.33 541.43h8.64" fill="#9f9259" stroke="#626262" stroke-width="1" shape-rendering="crispEdges"/>
<path d="M687.13 518.36h8.64V550.28h-8.64ZM687.13 544.22h8.64" fill="#9e9259" stroke="#626262" stroke-width="1" shape-rendering="crispEdges"/>
<path d="M697.93 515.57h8.64V550.28h-8.64ZM697.93 541.43h8.64" fill="#9d9258" stroke="#626262" stroke-width="1" shape-rendering="crispEdges"/>
<path d="M708.73 518.36h8.64V551.21h-8.64ZM708.73 543.29h8.64" fill="#9b9258" stroke="#626262" stroke-width="1" shape-rendering="crispEdges"/>
<path d="M719.53 521.39h8.64V553.31h-8.64ZM719.53 545.16h8.64" fill="#9a9258" stroke="#626262" stroke-width="1" shape-rendering="crispEdges"/>
<path d="M730.33 518.36h8.64V551.21h-8.64ZM730.33 543.29h8.64" fill="#999157" stroke="#626262" stroke-width="1" shape-rendering="crispEdges"/>
<path d="M741.13 524.42h8.64V549.35h-8.64ZM741.13 546.32h8.64" fill="#989157" stroke="#626262" stroke-width="1" shape-rendering="crispEdges"/>
<path d="M751.93 516.50h8.64V547.25h-8.64ZM751.93 541.43h8.64" fill="#979156" stroke="#626262" stroke-width="1" shape-rendering="crispEdges"/>
<path d="M762.73 518.36h8.64V550.28h-8.64ZM762.73 543.29h8.64" fill="#959156" stroke="#626262" stroke-width="1" shape-rendering="crispEdges"/>
<path d="M773.53 524.42h8.64V551.21h-8.64ZM773.53 540.26h8.64" fill="#949156" stroke="#626262" stroke-width="1" shape-rendering="crispEdges"/>
<path d="M784.33 521.39h8.64V547.25h-8.64ZM784.33 537.23h8.64" fill="#939155" stroke="#626262" stroke-width="1" shape-rendering="crispEdges"/>
<path d="M795.13 518.36h8.64V549.35h-8.64ZM795.13 539.33h8.64" fill="#929155" stroke="#626262" stroke-width="1" shape-rendering="crispEdges"/>
<path d="M805.93 516.50h8.64V550.28h-8.64ZM805.93 538.17h8.64" fill="#909054" stroke="#626262" stroke-width="1" shape-rendering="crispEdges"/>
<path d="M816.73 521.39h8.64V548.18h-8.64ZM816.73 533.27h8.64" fill="#909154" stroke="#626262" stroke-width="1" shape-rendering="crispEdges"/>
<path d="M827.53 517.43h8.64V544.22h-8.64ZM827.53 533.27h8.64" fill="#8f9155" stroke="#626262" stroke-width="1" shape-rendering="crispEdges"/>
<path d="M838.33 516.50h8.64V541.19h-8.64ZM838.33 531.18h8.64" fill="#8e9255" stroke="#626262" stroke-width="1" shape-rendering="crispEdges"/>
<path d="M849.13 519.53h8.64V544.22h-8.64ZM849.13 526.52h8.64" fill="#8d9255" stroke="#626262" stroke-width="1" shape-rendering="crispEdges"/>
<path d="M859.93 507.65h8.64V539.33h-8.64ZM859.93 529.31h8.64" fill="#8d9255" stroke="#626262" stroke-width="1" shape-rendering="crispEdges"/>
<path d="M870.73 514.14h8.64V538.97h-8.64ZM870.73 526.36h8.64" fill="#8c9355" stroke="#626262" stroke-width="1" shape-rendering="crispEdges"/>
<path d="M881.53 513.35h8.64V537.00h-8.64ZM881.53 522.42h8.64" fill="#8b9355" stroke="#626262" stroke-width="1" shape-rendering="crispEdges"/>
<path d="M892.33 518.08h8.64V534.24h-8.64ZM892.33 531.48h8.64" fill="#8a9355" stroke="#626262" stroke-width="1" shape-rendering="crispEdges"/>
<path d="M903.13 518.08h8.64V535.42h-8.64ZM903.13 527.15h8.64" fill="#899455" stroke="#626262" stroke-width="1" shape-rendering="crispEdges"/>
<path d="M913.93 507.44h8.64V534.24h-8.64ZM913.93 527.15h8.64" fill="#889456" stroke="#626262" stroke-width="1" shape-rendering="crispEdges"/>
<path d="M924.73 500.34h8.64V531.09h-8.64ZM924.73 520.45h8.64" fill="#879556" stroke="#626262" stroke-width="1" shape-rendering="crispEdges"/>
<path d="M935.53 487.34h8.64V529.12h-8.64ZM935.53 516.11h8.64" fill="#869556" stroke="#626262" stroke-width="1" shape-rendering="crispEdges"/>
<path d="M946.33 491.28h8.64V533.06h-8.64ZM946.33 512.56h8.64" fill="#859556" stroke="#626262" stroke-width="1" shape-rendering="crispEdges"/>
<path d="M957.13 483.39h8.64V530.30h-8.64ZM957.13 510.99h8.64" fill="#849656" stroke="#626262" stroke-width="1" shape-rendering="crispEdges"/>
<path d="M967.93 479.45h8.64V521.23h-8.64ZM967.93 512.17h8.64" fill="#839656" stroke="#626262" stroke-width="1" shape-rendering="crispEdges"/>
<path d="M978.73 473.54h8.64V514.93h-8.64ZM978.73 505.07h8.64" fill="#829756" stroke="#626262" stroke-width="1" shape-rendering="crispEdges"/>
<path d="M989.53 470.39h8.64V508.23h-8.64ZM989.53 495.22h8.64" fill="#819756" stroke="#626262" stroke-width="1" shape-rendering="crispEdges"/>
<path d="M1000.33 467.63h8.64V505.07h-8.64ZM1000.33 494.04h8.64" fill="#809757" stroke="#626262" stroke-width="1" shape-rendering="crispEdges"/>
<path d="M1011.13 458.56h8.64V509.01h-8.64ZM1011.13 489.31h8.64" fill="#7f9857" stroke="#626262" stroke-width="1" shape-rendering="crispEdges"/>
<path d="M1021.93 463.29h8.64V509.01h-8.64ZM1021.93 484.18h8.64" fill="#7d9857" stroke="#626262" stroke-width="1" shape-rendering="crispEdges"/>
<path d="M1032.73 459.35h8.64V505.07h-8.64ZM1032.73 473.54h8.64" fill="#7c9957" stroke="#626262" stroke-width="1" shape-rendering="crispEdges"/>
<path d="M1043.53 445.55h8.64V501.13h-8.64ZM1043.53 466.45h8.64" fill="#7a9957" stroke="#626262" stroke-width="1" shape-rendering="crispEdges"/>
<path d="M1054.33 447.53h8.64V491.28h-8.64ZM1054.33 463.69h8.64" fill="#799a57" stroke="#626262" stroke-width="1" shape-rendering="crispEdges"/>
<path d="M1065.13 434.52h8.64V487.34h-8.64ZM1065.13 467.63h8.64" fill="#779a57" stroke="#626262" stroke-width="1" shape-rendering="crispEdges"/>
<path d="M1075.93 447.53h8.64V486.15h-8.64ZM1075.93 468.42h8.64" fill="#759b58" stroke="#626262" stroke-width="1" shape-rendering="crispEdges"/>
<path d="M1086.73 434.52h8.64V482.21h-8.64ZM1086.73 448.31h8.64" fill="#739b58" stroke="#626262" stroke-width="1" shape-rendering="crispEdges"/>
<path d="M1097.53 433.73h8.64V481.42h-8.64ZM1097.53 449.10h8.64" fill="#719c58" stroke="#626262" stroke-width="1" shape-rendering="crispEdges"/>
<path d="M1108.33 430.58h8.64V482.21h-8.64ZM1108.33 443.58h8.64" fill="#6f9c58" stroke="#626262" stroke-width="1" shape-rendering="crispEdges"/>
<path d="M1119.13 433.73h8.64V476.30h-8.64ZM1119.13 450.28h8.64" fill="#6c9d58" stroke="#626262" stroke-width="1" shape-rendering="crispEdges"/>
<path d="M1129.93 422.30h8.64V472.36h-8.64ZM1129.93 448.31h8.64" fill="#699d58" stroke="#626262" stroke-width="1" shape-rendering="crispEdges"/>
<path d="M1140.73 425.45h8.64V480.24h-8.64ZM1140.73 442.40h8.64" fill="#659e59" stroke="#626262" stroke-width="1" shape-rendering="crispEdges"/>
<path d="M1151.53 428.21h8.64V480.24h-8.64ZM1151.53 444.37h8.64" fill="#619e59" stroke="#626262" stroke-width="1" shape-rendering="crispEdges"/>
<path d="M1162.33 437.28h8.64V470.39h-8.64ZM1162.33 451.47h8.64" fill="#5c9f59" stroke="#626262" stroke-width="1" shape-rendering="crispEdges"/>
<path d="M1173.13 409.29h8.64V473.54h-8.64ZM1173.13 446.34h8.64" fill="#599f5c" stroke="#626262" stroke-width="1" shape-rendering="crispEdges"/>
<path d="M1183.93 423.48h8.64V478.27h-8.64ZM1183.93 442.40h8.64" fill="#599f61" stroke="#626262" stroke-width="1" shape-rendering="crispEdges"/>
<path d="M1194.73 427.42h8.64V466.45h-8.64ZM1194.73 451.47h8.64" fill="#599f65" stroke="#626262" stroke-width="1" shape-rendering="crispEdges"/>
<path d="M1205.53 425.45h8.64V476.30h-8.64ZM1205.53 452.26h8.64" fill="#599f69" stroke="#626262" stroke-width="1" shape-rendering="crispEdges"/>
<path d="M1216.33 432.55h8.64V477.48h-8.64ZM1216.33 452.26h8.64" fill="#599f6c" stroke="#626262" stroke-width="1" shape-rendering="crispEdges"/>
<path d="M1227.13 415.20h8.64V476.30h-8.64ZM1227.13 464.47h8.64" fill="#599e6f" stroke="#626262" stroke-width="1" shape-rendering="crispEdges"/>
<path d="M1237.93 434.52h8.64V478.27h-8.64ZM1237.93 453.44h8.64" fill="#5a9e71" stroke="#626262" stroke-width="1" shape-rendering="crispEdges"/>
<path d="M1248.73 442.40h8.64V477.48h-8.64ZM1248.73 466.45h8.64" fill="#5a9e73" stroke="#626262" stroke-width="1" shape-rendering="crispEdges"/>
<path d="M1259.53 440.43h8.64V480.24h-8.64ZM1259.53 462.50h8.64" fill="#5a9e75" stroke="#626262" stroke-width="1" shape-rendering="crispEdges"/>
<path d="M1270.33 441.22h8.64V472.36h-8.64ZM1270.33 460.14h8.64" fill="#5a9e77" stroke="#626262" stroke-width="1" shape-rendering="crispEdges"/>
<path d="M1281.13 447.13h8.64V470.39h-8.64ZM1281.13 460.93h8.64" fill="#5a9e79" stroke="#626262" stroke-width="1" shape-rendering="crispEdges"/>
<path d="M1291.93 441.61h8.64V469.20h-8.64ZM1291.93 457.38h8.64" fill="#5a9e7b" stroke="#626262" stroke-width="1" shape-rendering="crispEdges"/>
<path d="M1302.73 453.44h8.64V472.36h-8.64ZM1302.73 463.29h8.64" fill="#5a9e7c" stroke="#626262" stroke-width="1" shape-rendering="crispEdges"/>
<path d="M1313.53 451.47h8.64V476.30h-8.64ZM1313.53 463.29h8.64" fill="#5a9d7d" stroke="#626262" stroke-width="1" shape-rendering="crispEdges"/>
<path d="M1324.33 442.40h8.64V473.54h-8.64ZM1324.33 456.99h8.64" fill="#5a9d7f" stroke="#626262" stroke-width="1" shape-rendering="crispEdges"/>
<path d="M1335.13 450.28h8.64V482.21h-8.64ZM1335.13 470.39h8.64" fill="#5a9d80" stroke="#626262" stroke-width="1" shape-rendering="crispEdges"/>
<path d="M1345.93 452.26h8.64V475.51h-8.64ZM1345.93 467.23h8.64" fill="#5a9d81" stroke="#626262" stroke-width="1" shape-rendering="crispEdges"/>
<path d="M1356.73 447.53h8.64V481.42h-8.64ZM1356.73 468.42h8.64" fill="#5a9d82" stroke="#626262" stroke-width="1" shape-rendering="crispEdges"/>
<path d="M1367.53 449.10h8.64V480.24h-8.64ZM1367.53 463.29h8.64" fill="#5a9d83" stroke="#626262" stroke-width="1" shape-rendering="crispEdges"/>
<path d="M1378.33 442.40h8.64V482.21h-8.64ZM1378.33 471.18h8.64" fill="#5a9d84" stroke="#626262" stroke-width="1" shape-rendering="crispEdges"/>
<path d="M1389.13 458.17h8.64V487.34h-8.64ZM1389.13 475.51h8.64" fill="#5a9d85" stroke="#626262" stroke-width="1" shape-rendering="crispEdges"/>
<path d="M1399.93 452.26h8.64V490.09h-8.64ZM1399.93 473.15h8.64" fill="#5a9d86" stroke="#626262" stroke-width="1" shape-rendering="crispEdges"/>
<path d="M1410.73 457.38h8.64V484.18h-8.64ZM1410.73 477.48h8.64" fill="#5a9d87" stroke="#626262" stroke-width="1" shape-rendering="crispEdges"/>
<path d="M1421.53 464.08h8.64V488.12h-8.64ZM1421.53 474.33h8.64" fill="#5a9d88" stroke="#626262" stroke-width="1" shape-rendering="crispEdges"/>
<path d="M1432.33 446.34h8.64V492.07h-8.64ZM1432.33 475.51h8.64" fill="#5a9d89" stroke="#626262" stroke-width="1" shape-rendering="crispEdges"/>
<path d="M1443.13 459.35h8.64V489.31h-8.64ZM1443.13 474.33h8.64" fill="#5a9c8a" stroke="#626262" stroke-width="1" shape-rendering="crispEdges"/>
<path d="M1453.93 457.38h8.64V490.09h-8.64ZM1453.93 477.48h8.64" fill="#5a9c8b" stroke="#626262" stroke-width="1" shape-rendering="crispEdges"/>
<path d="M1464.73 458.17h8.64V497.19h-8.64ZM1464.73 474.33h8.64" fill="#5a9c8b" stroke="#626262" stroke-width="1" shape-rendering="crispEdges"/>
<path d="M1475.53 465.26h8.64V491.28h-8.64ZM1475.53 474.33h8.64" fill="#5b9c8c" stroke="#626262" stroke-width="1" shape-rendering="crispEdges"/>
<path d="M1486.33 452.26h8.64V501.13h-8.64ZM1486.33 480.24h8.64" fill="#5b9c8d" stroke="#626262" stroke-width="1" shape-rendering="crispEdges"/>
<path d="M1497.13 461.32h8.64V506.26h-8.64ZM1497.13 480.24h8.64" fill="#5b9c8e" stroke="#626262" stroke-width="1" shape-rendering="crispEdges"/>
<path d="M1507.93 463.29h8.64V499.16h-8.64ZM1507.93 479.45h8.64" fill="#5b9c8e" stroke="#626262" stroke-width="1" shape-rendering="crispEdges"/>
<path d="M1518.73 453.44h8.64V497.98h-8.64ZM1518.73 476.30h8.64" fill="#5b9c8f" stroke="#626262" stroke-width="1" shape-rendering="crispEdges"/>
<path d="M1529.53 457.38h8.64V501.13h-8.64ZM1529.53 476.30h8.64" fill="#5b9c90" stroke="#626262" stroke-width="1" shape-rendering="crispEdges"/>
<path d="M1540.33 453.44h8.64V497.19h-8.64ZM1540.33 481.42h8.64" fill="#5b9c90" stroke="#626262" stroke-width="1" shape-rendering="crispEdges"/>
<path d="M1551.13 468.42h8.64V497.98h-8.64ZM1551.13 485.36h8.64" fill="#5b9c91" stroke="#626262" stroke-width="1" shape-rendering="crispEdges"/>
<path d="M1561.93 472.36h8.64V508.23h-8.64ZM1561.93 482.21h8.64" fill="#5b9c92" stroke="#626262" stroke-width="1" shape-rendering="crispEdges"/>
<path d="M1572.73 452.26h8.64V506.26h-8.64ZM1572.73 485.36h8.64" fill="#5b9c92" stroke="#626262" stroke-width="1" shape-rendering="crispEdges"/>
<path d="M1583.53 459.35h8.64V501.13h-8.64ZM1583.53 479.45h8.64" fill="#5b9c93" stroke="#626262" stroke-width="1" shape-rendering="crispEdges"/>
<path d="M1594.33 454.23h8.64V506.26h-8.64ZM1594.33 481.42h8.64" fill="#5b9b94" stroke="#626262" stroke-width="1" shape-rendering="crispEdges"/>
<path d="M1605.13 457.38h8.64V505.07h-8.64ZM1605.13 487.34h8.64" fill="#5b9b94" stroke="#626262" stroke-width="1" shape-rendering="crispEdges"/>
<path d="M1615.93 440.43h8.64V506.26h-8.64ZM1615.93 484.18h8.64" fill="#5b9b95" stroke="#626262" stroke-width="1" shape-rendering="crispEdges"/>
<path d="M1626.73 458.17h8.64V508.23h-8.64ZM1626.73 484.18h8.64" fill="#5b9b95" stroke="#626262" stroke-width="1" shape-rendering="crispEdges"/>
<path d="M1637.53 452.26h8.64V510.20h-8.64ZM1637.53 478.27h8.64" fill="#5b9b96" stroke="#626262" stroke-width="1" shape-rendering="crispEdges"/>
<path d="M1648.33 461.32h8.64V506.26h-8.64ZM1648.33 477.48h8.64" fill="#5b9b96" stroke="#626262" stroke-width="1" shape-rendering="crispEdges"/>
<path d="M1659.13 449.10h8.64V507.44h-8.64ZM1659.13 475.51h8.64" fill="#5b9b97" stroke="#626262" stroke-width="1" shape-rendering="crispEdges"/>
<path d="M1669.93 462.11h8.64V504.28h-8.64ZM1669.93 483.39h8.64" fill="#5b9b98" stroke="#626262" stroke-width="1" shape-rendering="crispEdges"/>
<path d="M1680.73 445.55h8.64V497.98h-8.64ZM1680.73 481.42h8.64" fill="#5b9b98" stroke="#626262" stroke-width="1" shape-rendering="crispEdges"/>
<path d="M1691.53 455.41h8.64V493.25h-8.64ZM1691.53 482.21h8.64" fill="#5b9b99" stroke="#626262" stroke-width="1" shape-rendering="crispEdges"/>
<path d="M1702.33 464.47h8.64V494.04h-8.64ZM1702.33 486.55h8.64" fill="#5b9b99" stroke="#626262" stroke-width="1" shape-rendering="crispEdges"/>
<path d="M1713.13 462.50h8.64V496.40h-8.64ZM1713.13 485.36h8.64" fill="#5b9b9a" stroke="#626262" stroke-width="1" shape-rendering="crispEdges"/>
<path d="M1723.93 458.17h8.64V495.22h-8.64ZM1723.93 476.30h8.64" fill="#5b9b9a" stroke="#626262" stroke-width="1" shape-rendering="crispEdges"/>
<path d="M1734.73 464.47h8.64V500.34h-8.64ZM1734.73 484.18h8.64" fill="#5b9b9b" stroke="#626262" stroke-width="1" shape-rendering="crispEdges"/>
<path d="M1745.53 465.26h8.64V497.19h-8.64ZM1745.53 483.39h8.64" fill="#5c9b9c" stroke="#626262" stroke-width="1" shape-rendering="crispEdges"/>
<path d="M1756.33 463.29h8.64V496.40h-8.64ZM1756.33 472.36h8.64" fill="#5c9b9d" stroke="#626262" stroke-width="1" shape-rendering="crispEdges"/>
<path d="M1767.13 462.11h8.64V485.36h-8.64ZM1767.13 473.54h8.64" fill="#5c9c9e" stroke="#626262" stroke-width="1" shape-rendering="crispEdges"/>
<path d="M1777.93 460.14h8.64V494.04h-8.64ZM1777.93 475.51h8.64" fill="#5d9c9f" stroke="#626262" stroke-width="1" shape-rendering="crispEdges"/>
<path d="M1788.73 461.32h8.64V493.25h-8.64ZM1788.73 477.48h8.64" fill="#5d9ca0" stroke="#626262" stroke-width="1" shape-rendering="crispEdges"/>
<path d="M1799.53 459.35h8.64V501.13h-8.64ZM1799.53 477.48h8.64" fill="#5e9ca1" stroke="#626262" stroke-width="1" shape-rendering="crispEdges"/>
<path d="M1810.33 457.38h8.64V488.12h-8.64ZM1810.33 469.20h8.64" fill="#5e9da2" stroke="#626262" stroke-width="1" shape-rendering="crispEdges"/>
<path d="M1821.13 459.35h8.64V488.12h-8.64ZM1821.13 473.15h8.64" fill="#5e9da2" stroke="#626262" stroke-width="1" shape-rendering="crispEdges"/>
<path d="M1831.93 453.44h8.64V489.31h-8.64ZM1831.93 470.39h8.64" fill="#5f9da3" stroke="#626262" stroke-width="1" shape-rendering="crispEdges"/>
<path d="M1842.73 453.44h8.64V486.15h-8.64ZM1842.73 472.36h8.64" fill="#5f9da4" stroke="#626262" stroke-width="1" shape-rendering="crispEdges"/>
<path d="M1853.53 447.53h8.64V486.15h-8.64ZM1853.53 460.14h8.64" fill="#5f9ea5" stroke="#626262" stroke-width="1" shape-rendering="crispEdges"/>
<path d="M1864.33 447.53h8.64V478.27h-8.64ZM1864.33 458.17h8.64" fill="#609ea6" stroke="#626262" stroke-width="1" shape-rendering="crispEdges"/>
<path d="M1875.13 453.44h8.64V480.24h-8.64ZM1875.13 462.11h8.64" fill="#609ea7" stroke="#626262" stroke-width="1" shape-rendering="crispEdges"/>
<path d="M1885.93 442.40h8.64V475.51h-8.64ZM1885.93 453.44h8.64" fill="#619ea8" stroke="#626262" stroke-width="1" shape-rendering="crispEdges"/>
<path d="M1896.73 450.28h8.64V468.42h-8.64ZM1896.73 453.44h8.64" fill="#619fa9" stroke="#626262" stroke-width="1" shape-rendering="crispEdges"/>
<path d="M1907.53 439.25h8.64V476.30h-8.64ZM1907.53 456.59h8.64" fill="#619faa" stroke="#626262" stroke-width="1" shape-rendering="crispEdges"/>
<path d="M1918.33 443.58h8.64V479.45h-8.64ZM1918.33 453.44h8.64" fill="#629fab" stroke="#626262" stroke-width="1" shape-rendering="crispEdges"/>
<path d="M1929.13 442.40h8.64V470.39h-8.64ZM1929.13 454.23h8.64" fill="#629fac" stroke="#626262" stroke-width="1" shape-rendering="crispEdges"/>
<path d="M1939.93 441.22h8.64V465.26h-8.64ZM1939.93 454.23h8.64" fill="#63a0ad" stroke="#626262" stroke-width="1" shape-rendering="crispEdges"/>
<path d="M1950.73 444.37h8.64V472.36h-8.64ZM1950.73 458.17h8.64" fill="#63a0af" stroke="#626262" stroke-width="1" shape-rendering="crispEdges"/>
<path d="M1961.53 443.58h8.64V476.30h-8.64ZM1961.53 458.17h8.64" fill="#64a0b0" stroke="#626262" stroke-width="1" shape-rendering="crispEdges"/>
<path d="M1972.33 443.58h8.64V474.33h-8.64ZM1972.33 450.28h8.64" fill="#64a1b1" stroke="#626262" stroke-width="1" shape-rendering="crispEdges"/>
<path d="M1983.13 439.25h8.64V466.45h-8.64ZM1983.13 450.28h8.64" fill="#65a1b2" stroke="#626262" stroke-width="1" shape-rendering="crispEdges"/>
<path d="M1993.93 443.58h8.64V459.35h-8.64ZM1993.93 454.23h8.64" fill="#65a1b3" stroke="#626262" stroke-width="1" shape-rendering="crispEdges"/>
<path d="M2004.73 427.42h8.64V481.42h-8.64ZM2004.73 459.35h8.64" fill="#66a2b5" stroke="#626262" stroke-width="1" shape-rendering="crispEdges"/>
<path d="M2015.53 437.28h8.64V470.39h-8.64ZM2015.53 446.34h8.64" fill="#66a2b6" stroke="#626262" stroke-width="1" shape-rendering="crispEdges"/>
<path d="M2026.33 446.34h8.64V462.11h-8.64ZM2026.33 458.17h8.64" fill="#67a2b7" stroke="#626262" stroke-width="1" shape-rendering="crispEdges"/>
<path d="M2037.13 444.37h8.64V470.39h-8.64ZM2037.13 457.38h8.64" fill="#67a3b9" stroke="#626262" stroke-width="1" shape-rendering="crispEdges"/>
<path d="M2047.93 442.40h8.64V467.23h-8.64ZM2047.93 459.35h8.64" fill="#68a3ba" stroke="#626262" stroke-width="1" shape-rendering="crispEdges"/>
<path d="M2058.73 449.10h8.64V469.20h-8.64ZM2058.73 462.11h8.64" fill="#68a4bc" stroke="#626262" stroke-width="1" shape-rendering="crispEdges"/>
<path d="M2069.53 442.40h8.64V466.45h-8.64ZM2069.53 455.41h8.64" fill="#69a4bd" stroke="#626262" stroke-width="1" shape-rendering="crispEdges"/>
<path d="M2080.33 444.37h8.64V466.45h-8.64ZM2080.33 451.47h8.64" fill="#6aa4bf" stroke="#626262" stroke-width="1" shape-rendering="crispEdges"/>
<path d="M2091.13 434.52h8.64V460.53h-8.64ZM2091.13 449.50h8.64" fill="#6ba5c1" stroke="#626262" stroke-width="1" shape-rendering="crispEdges"/>
<path d="M2101.93 428.21h8.64V462.50h-8.64ZM2101.93 453.44h8.64" fill="#6ba5c3" stroke="#626262" stroke-width="1" shape-rendering="crispEdges"/>
<path d="M2112.73 435.31h8.64V463.29h-8.64ZM2112.73 447.53h8.64" fill="#6ca6c5" stroke="#626262" stroke-width="1" shape-rendering="crispEdges"/>
<path d="M2123.53 428.21h8.64V458.17h-8.64ZM2123.53 448.31h8.64" fill="#6da6c7" stroke="#626262" stroke-width="1" shape-rendering="crispEdges"/>
<path d="M2134.33 436.49h8.64V456.59h-8.64ZM2134.33 444.37h8.64" fill="#6ea7c9" stroke="#626262" stroke-width="1" shape-rendering="crispEdges"/>
<path d="M2145.13 431.36h8.64V466.45h-8.64ZM2145.13 453.44h8.64" fill="#75a9cb" stroke="#626262" stroke-width="1" shape-rendering="crispEdges"/>
<path d="M2155.93 432.55h8.64V457.38h-8.64ZM2155.93 449.10h8.64" fill="#7baacd" stroke="#626262" stroke-width="1" shape-rendering="crispEdges"/>
<path d="M2166.73 429.39h8.64V465.26h-8.64ZM2166.73 446.34h8.64" fill="#80accf" stroke="#626262" stroke-width="1" shape-rendering="crispEdges"/>
<path d="M2177.53 431.36h8.64V464.08h-8.64ZM2177.53 445.55h8.64" fill="#85add0" stroke="#626262" stroke-width="1" shape-rendering="crispEdges"/>
<path d="M2188.33 430.58h8.64V453.44h-8.64ZM2188.33 436.49h8.64" fill="#89aed2" stroke="#626262" stroke-width="1" shape-rendering="crispEdges"/>
<path d="M2199.13 428.21h8.64V461.32h-8.64ZM2199.13 445.55h8.64" fill="#8dafd3" stroke="#626262" stroke-width="1" shape-rendering="crispEdges"/>
<path d="M2209.93 429.39h8.64V464.08h-8.64ZM2209.93 446.34h8.64" fill="#91b0d4" stroke="#626262" stroke-width="1" shape-rendering="crispEdges"/>
<path d="M2220.73 426.24h8.64V464.08h-8.64ZM2220.73 431.36h8.64" fill="#94b0d5" stroke="#626262" stroke-width="1" shape-rendering="crispEdges"/>
<path d="M2231.53 427.42h8.64V468.42h-8.64ZM2231.53 439.25h8.64" fill="#98b1d7" stroke="#626262" stroke-width="1" shape-rendering="crispEdges"/>
<path d="M2242.33 416.39h8.64V465.26h-8.64ZM2242.33 433.34h8.64" fill="#9bb2d8" stroke="#626262" stroke-width="1" shape-rendering="crispEdges"/>
<path d="M2253.13 431.36h8.64V464.08h-8.64ZM2253.13 443.58h8.64" fill="#9eb2d9" stroke="#626262" stroke-width="1" shape-rendering="crispEdges"/>
<path d="M2263.93 422.30h8.64V456.20h-8.64ZM2263.93 437.28h8.64" fill="#a0b3d9" stroke="#626262" stroke-width="1" shape-rendering="crispEdges"/>
<path d="M2274.73 423.48h8.64V459.35h-8.64ZM2274.73 442.40h8.64" fill="#a3b3da" stroke="#626262" stroke-width="1" shape-rendering="crispEdges"/>
<path d="M2285.53 436.49h8.64V452.26h-8.64ZM2285.53 444.37h8.64" fill="#a6b4db" stroke="#626262" stroke-width="1" shape-rendering="crispEdges"/>
<path d="M2296.33 438.46h8.64V462.11h-8.64ZM2296.33 451.47h8.64" fill="#a8b4dc" stroke="#626262" stroke-width="1" shape-rendering="crispEdges"/>
<path d="M2307.13 432.55h8.64V466.45h-8.64ZM2307.13 448.31h8.64" fill="#aab5dd" stroke="#626262" stroke-width="1" shape-rendering="crispEdges"/>
<path d="M2317.93 433.34h8.64V455.41h-8.64ZM2317.93 450.28h8.64" fill="#adb5de" stroke="#626262" stroke-width="1" shape-rendering="crispEdges"/>
<path d="M2328.73 443.58h8.64V473.15h-8.64ZM2328.73 449.10h8.64" fill="#afb5de" stroke="#626262" stroke-width="1" shape-rendering="crispEdges"/>
<path d="M2339.53 441.22h8.64V464.08h-8.64ZM2339.53 454.23h8.64" fill="#b1b6df" stroke="#626262" stroke-width="1" shape-rendering="crispEdges"/>
<path d="M2350.33 439.25h8.64V469.20h-8.64ZM2350.33 454.23h8.64" fill="#b3b6e0" stroke="#626262" stroke-width="1" shape-rendering="crispEdges"/>
<path d="M2361.13 449.10h8.64V474.33h-8.64ZM2361.13 464.47h8.64" fill="#b5b6e0" stroke="#626262" stroke-width="1" shape-rendering="crispEdges"/>
<path d="M2371.93 438.46h8.64V476.30h-8.64ZM2371.93 459.35h8.64" fill="#b7b6e1" stroke="#626262" stroke-width="1" shape-rendering="crispEdges"/>
<path d="M2382.73 444.37h8.64V487.34h-8.64ZM2382.73 459.35h8.64" fill="#b8b5e0" stroke="#626262" stroke-width="1" shape-rendering="crispEdges"/>
<path d="M2393.53 453.44h8.64V480.24h-8.64ZM2393.53 462.11h8.64" fill="#b9b5e0" stroke="#626262" stroke-width="1" shape-rendering="crispEdges"/>
<path d="M2404.33 443.58h8.64V485.36h-8.64ZM2404.33 462.11h8.64" fill="#bab4e0" stroke="#626262" stroke-width="1" shape-rendering="crispEdges"/>
<path d="M2415.13 438.46h8.64V499.16h-8.64ZM2415.13 456.20h8.64" fill="#bbb3e0" stroke="#626262" stroke-width="1" shape-rendering="crispEdges"/>
<path d="M2425.93 444.37h8.64V506.26h-8.64ZM2425.93 475.51h8.64" fill="#bcb3e0" stroke="#626262" stroke-width="1" shape-rendering="crispEdges"/>
<path d="M2436.73 453.44h8.64V496.40h-8.64ZM2436.73 475.51h8.64" fill="#bdb2df" stroke="#626262" stroke-width="1" shape-rendering="crispEdges"/>
<path d="M2447.53 451.47h8.64V496.40h-8.64ZM2447.53 475.51h8.64" fill="#beb2df" stroke="#626262" stroke-width="1" shape-rendering="crispEdges"/>
<path d="M2458.33 450.28h8.64V494.04h-8.64ZM2458.33 474.33h8.64" fill="#bfb1df" stroke="#626262" stroke-width="1" shape-rendering="crispEdges"/>
<path d="M2469.13 467.23h8.64V496.40h-8.64ZM2469.13 479.45h8.64" fill="#c0b0df" stroke="#626262" stroke-width="1" shape-rendering="crispEdges"/>
<path d="M2479.93 459.35h8.64V494.04h-8.64ZM2479.93 472.36h8.64" fill="#c1afde" stroke="#626262" stroke-width="1" shape-rendering="crispEdges"/>
<path d="M2490.73 453.44h8.64V497.98h-8.64ZM2490.73 472.36h8.64" fill="#c2afde" stroke="#626262" stroke-width="1" shape-rendering="crispEdges"/>
<path d="M2501.53 460.14h8.64V507.44h-8.64ZM2501.53 483.39h8.64" fill="#c3aede" stroke="#626262" stroke-width="1" shape-rendering="crispEdges"/>
<path d="M2512.33 463.29h8.64V512.17h-8.64ZM2512.33 473.15h8.64" fill="#c4adde" stroke="#626262" stroke-width="1" shape-rendering="crispEdges"/>
<path d="M2523.13 459.35h8.64V507.44h-8.64ZM2523.13 476.30h8.64" fill="#c5addd" stroke="#626262" stroke-width="1" shape-rendering="crispEdges"/>
<path d="M2533.93 457.38h8.64V505.07h-8.64ZM2533.93 475.51h8.64" fill="#c6acdd" stroke="#626262" stroke-width="1" shape-rendering="crispEdges"/>
<path d="M2544.73 458.17h8.64V509.01h-8.64ZM2544.73 478.27h8.64" fill="#c7abdd" stroke="#626262" stroke-width="1" shape-rendering="crispEdges"/>
<path d="M2555.53 470.39h8.64V502.31h-8.64ZM2555.53 485.36h8.64" fill="#c8aadd" stroke="#626262" stroke-width="1" shape-rendering="crispEdges"/>
<path d="M2566.33 470.39h8.64V516.11h-8.64ZM2566.33 488.12h8.64" fill="#c9a9dc" stroke="#626262" stroke-width="1" shape-rendering="crispEdges"/>
<path d="M2577.13 474.33h8.64V514.93h-8.64ZM2577.13 496.40h8.64" fill="#caa8dc" stroke="#626262" stroke-width="1" shape-rendering="crispEdges"/>
<path d="M2587.93 479.45h8.64V516.90h-8.64ZM2587.93 503.10h8.64" fill="#cba8dc" stroke="#626262" stroke-width="1" shape-rendering="crispEdges"/>
<path d="M2598.73 481.42h8.64V520.05h-8.64ZM2598.73 503.10h8.64" fill="#cca7db" stroke="#626262" stroke-width="1" shape-rendering="crispEdges"/>
<path d="M2609.53 483.39h8.64V516.90h-8.64ZM2609.53 499.16h8.64" fill="#cca6db" stroke="#626262" stroke-width="1" shape-rendering="crispEdges"/>
<path d="M2620.33 475.51h8.64V523.20h-8.64ZM2620.33 501.13h8.64" fill="#cda5db" stroke="#626262" stroke-width="1" shape-rendering="crispEdges"/>
<path d="M2631.13 477.48h8.64V527.15h-8.64ZM2631.13 499.16h8.64" fill="#cea4da" stroke="#626262" stroke-width="1" shape-rendering="crispEdges"/>
<path d="M2641.93 491.28h8.64V523.20h-8.64ZM2641.93 506.26h8.64" fill="#cfa3da" stroke="#626262" stroke-width="1" shape-rendering="crispEdges"/>
<path d="M2652.73 478.27h8.64V523.20h-8.64ZM2652.73 514.93h8.64" fill="#d0a1da" stroke="#626262" stroke-width="1" shape-rendering="crispEdges"/>
<path d="M2663.53 483.39h8.64V525.18h-8.64ZM2663.53 504.28h8.64" fill="#d1a0d9" stroke="#626262" stroke-width="1" shape-rendering="crispEdges"/>
<path d="M2674.33 491.28h8.64V516.90h-8.64ZM2674.33 503.10h8.64" fill="#d29fd9" stroke="#626262" stroke-width="1" shape-rendering="crispEdges"/>
<path d="M2685.13 488.12h8.64V527.93h-8.64ZM2685.13 506.26h8.64" fill="#d39ed8" stroke="#626262" stroke-width="1" shape-rendering="crispEdges"/>
<path d="M2695.93 494.04h8.64V523.20h-8.64ZM2695.93 502.31h8.64" fill="#d49cd8" stroke="#626262" stroke-width="1" shape-rendering="crispEdges"/>
<path d="M2706.73 489.31h8.64V523.20h-8.64ZM2706.73 512.96h8.64" fill="#d59bd8" stroke="#626262" stroke-width="1" shape-rendering="crispEdges"/>
<path d="M2717.53 500.34h8.64V519.26h-8.64ZM2717.53 510.20h8.64" fill="#d699d7" stroke="#626262" stroke-width="1" shape-rendering="crispEdges"/>
<path d="M2728.33 500.34h8.64V521.23h-8.64ZM2728.33 512.96h8.64" fill="#d698d6" stroke="#626262" stroke-width="1" shape-rendering="crispEdges"/>
<path d="M2739.13 501.13h8.64V525.96h-8.64ZM2739.13 518.08h8.64" fill="#d798d5" stroke="#626262" stroke-width="1" shape-rendering="crispEdges"/>
<path d="M2749.93 501.13h8.64V522.42h-8.64ZM2749.93 512.17h8.64" fill="#d799d4" stroke="#626262" stroke-width="1" shape-rendering="crispEdges"/>
<path d="M2760.73 501.13h8.64V525.18h-8.64ZM2760.73 510.20h8.64" fill="#d799d3" stroke="#626262" stroke-width="1" shape-rendering="crispEdges"/>
<path d="M2771.53 489.31h8.64V529.12h-8.64ZM2771.53 518.08h8.64" fill="#d79ad2" stroke="#626262" stroke-width="1" shape-rendering="crispEdges"/>
<path d="M2782.33 502.31h8.64V522.42h-8.64ZM2782.33 515.72h8.64" fill="#d79ad1" stroke="#626262" stroke-width="1" shape-rendering="crispEdges"/>
<path d="M2793.13 488.12h8.64V520.05h-8.64ZM2793.13 508.23h8.64" fill="#d89bd0" stroke="#626262" stroke-width="1" shape-rendering="crispEdges"/>
<path d="M2803.93 497.19h8.64V529.12h-8.64ZM2803.93 505.07h8.64" fill="#d89bce" stroke="#626262" stroke-width="1" shape-rendering="crispEdges"/>
<path d="M2814.73 490.09h8.64V523.99h-8.64ZM2814.73 508.23h8.64" fill="#d89bcd" stroke="#626262" stroke-width="1" shape-rendering="crispEdges"/>
<path d="M2825.53 491.28h8.64V520.05h-8.64ZM2825.53 514.14h8.64" fill="#d89ccc" stroke="#626262" stroke-width="1" shape-rendering="crispEdges"/>
<path d="M2836.33 484.18h8.64V523.99h-8.64ZM2836.33 510.20h8.64" fill="#d89ccb" stroke="#626262" stroke-width="1" shape-rendering="crispEdges"/>
<path d="M2847.13 479.45h8.64V523.99h-8.64ZM2847.13 506.26h8.64" fill="#d89ccb" stroke="#626262" stroke-width="1" shape-rendering="crispEdges"/>
<path d="M2857.93 487.34h8.64V522.02h-8.64ZM2857.93 511.38h8.64" fill="#d99dca" stroke="#626262" stroke-width="1" shape-rendering="crispEdges"/>
<path d="M2868.73 489.31h8.64V523.99h-8.64ZM2868.73 504.28h8.64" fill="#d99dc9" stroke="#626262" stroke-width="1" shape-rendering="crispEdges"/>
<path d="M2879.53 487.34h8.64V516.90h-8.64ZM2879.53 500.34h8.64" fill="#d99dc8" stroke="#626262" stroke-width="1" shape-rendering="crispEdges"/>
<path d="M2890.33 488.12h8.64V516.90h-8.64ZM2890.33 501.13h8.64" fill="#d99dc7" stroke="#626262" stroke-width="1" shape-rendering="crispEdges"/>
<path d="M2901.13 474.33h8.64V516.90h-8.64ZM2901.13 494.04h8.64" fill="#d99ec6" stroke="#626262" stroke-width="1" shape-rendering="crispEdges"/>
<path d="M2911.93 480.24h8.64V508.23h-8.64ZM2911.93 496.40h8.64" fill="#d99ec5" stroke="#626262" stroke-width="1" shape-rendering="crispEdges"/>
<path d="M2922.73 472.36h8.64V505.07h-8.64ZM2922.73 485.36h8.64" fill="#d99ec4" stroke="#626262" stroke-width="1" shape-rendering="crispEdges"/>
<path d="M2933.53 450.28h8.64V499.16h-8.64ZM2933.53 485.36h8.64" fill="#d99fc3" stroke="#626262" stroke-width="1" shape-rendering="crispEdges"/>
<path d="M2944.33 439.25h8.64V508.23h-8.64ZM2944.33 484.18h8.64" fill="#d99fc2" stroke="#626262" stroke-width="1" shape-rendering="crispEdges"/>
<path d="M2955.13 451.47h8.64V497.19h-8.64ZM2955.13 478.27h8.64" fill="#da9fc2" stroke="#626262" stroke-width="1" shape-rendering="crispEdges"/>
<path d="M2965.93 446.34h8.64V500.34h-8.64ZM2965.93 476.30h8.64" fill="#da9fc1" stroke="#626262" stroke-width="1" shape-rendering="crispEdges"/>
<path d="M2976.73 435.31h8.64V505.07h-8.64ZM2976.73 473.15h8.64" fill="#da9fc0" stroke="#626262" stroke-width="1" shape-rendering="crispEdges"/>
<path d="M2987.53 422.30h8.64V501.13h-8.64ZM2987.53 487.34h8.64" fill="#daa0bf" stroke="#626262" stroke-width="1" shape-rendering="crispEdges"/>
<path d="M2998.33 434.52h8.64V495.22h-8.64ZM2998.33 480.24h8.64" fill="#daa0be" stroke="#626262" stroke-width="1" shape-rendering="crispEdges"/>
<path d="M3009.13 433.34h8.64V492.07h-8.64ZM3009.13 460.14h8.64" fill="#daa0bd" stroke="#626262" stroke-width="1" shape-rendering="crispEdges"/>
<path d="M3019.93 442.40h8.64V497.98h-8.64ZM3019.93 459.35h8.64" fill="#daa0bd" stroke="#626262" stroke-width="1" shape-rendering="crispEdges"/>
<path d="M3030.73 435.31h8.64V495.22h-8.64ZM3030.73 471.18h8.64" fill="#daa1bc" stroke="#626262" stroke-width="1" shape-rendering="crispEdges"/>
<path d="M3041.53 427.42h8.64V489.31h-8.64ZM3041.53 472.36h8.64" fill="#daa1bb" stroke="#626262" stroke-width="1" shape-rendering="crispEdges"/>
<path d="M3052.33 426.24h8.64V500.34h-8.64ZM3052.33 469.20h8.64" fill="#daa1ba" stroke="#626262" stroke-width="1" shape-rendering="crispEdges"/>
<path d="M3063.13 450.28h8.64V488.12h-8.64ZM3063.13 475.51h8.64" fill="#daa1b9" stroke="#626262" stroke-width="1" shape-rendering="crispEdges"/>
<path d="M3073.93 458.17h8.64V493.25h-8.64ZM3073.93 473.15h8.64" fill="#dba1b8" stroke="#626262" stroke-width="1" shape-rendering="crispEdges"/>
<path d="M3084.73 446.34h8.64V493.25h-8.64ZM3084.73 473.15h8.64" fill="#dba2b8" stroke="#626262" stroke-width="1" shape-rendering="crispEdges"/>
<path d="M3095.53 447.53h8.64V497.19h-8.64ZM3095.53 472.36h8.64" fill="#dba2b7" stroke="#626262" stroke-width="1" shape-rendering="crispEdges"/>
<path d="M3106.33 452.26h8.64V495.22h-8.64ZM3106.33 483.39h8.64" fill="#dba2b6" stroke="#626262" stroke-width="1" shape-rendering="crispEdges"/>
<path d="M3117.13 448.31h8.64V493.25h-8.64ZM3117.13 479.45h8.64" fill="#dba2b5" stroke="#626262" stroke-width="1" shape-rendering="crispEdges"/>
<path d="M3127.93 455.41h8.64V495.22h-8.64ZM3127.93 477.48h8.64" fill="#dba2b4" stroke="#626262" stroke-width="1" shape-rendering="crispEdges"/>
<path d="M3138.73 469.20h8.64V489.31h-8.64ZM3138.73 481.42h8.64" fill="#dba3b3" stroke="#626262" stroke-width="1" shape-rendering="crispEdges"/>
<path d="M3149.53 467.23h8.64V496.40h-8.64ZM3149.53 479.45h8.64" fill="#dba3b2" stroke="#626262" stroke-width="1" shape-rendering="crispEdges"/>
<path d="M3160.33 456.59h8.64V493.25h-8.64ZM3160.33 468.42h8.64" fill="#dba3b1" stroke="#626262" stroke-width="1" shape-rendering="crispEdges"/>
<path d="M3171.13 458.17h8.64V505.07h-8.64ZM3171.13 480.24h8.64" fill="#dba3b0" stroke="#626262" stroke-width="1" shape-rendering="crispEdges"/>
<path d="M3181.93 472.36h8.64V516.90h-8.64ZM3181.93 479.45h8.64" fill="#dba3af" stroke="#626262" stroke-width="1" shape-rendering="crispEdges"/>
<path d="M3192.73 466.45h8.64V504.28h-8.64ZM3192.73 485.36h8.64" fill="#dca4ae" stroke="#626262" stroke-width="1" shape-rendering="crispEdges"/>
<path d="M1393.45 342.73l3.65 5.5l-3.65 5.5l-3.65 -5.5ZM1404.25 284.02l3.65 5.5l-3.65 5.5l-3.65 -5.5ZM1404.25 317.56l3.65 5.5l-3.65 5.5l-3.65 -5.5ZM1404.25 359.82l3.65 5.5l-3.65 5.5l-3.65 -5.5ZM1415.05 299.82l3.65 5.5l-3.65 5.5l-3.65 -5.5ZM1415.05 310.47l3.65 5.5l-3.65 5.5l-3.65 -5.5ZM1415.05 371.76l3.65 5.5l-3.65 5.5l-3.65 -5.5ZM1425.85 309.50l3.65 5.5l-3.65 5.5l-3.65 -5.5ZM1425.85 360.47l3.65 5.5l-3.65 5.5l-3.65 -5.5ZM1436.65 261.44l3.65 5.5l-3.65 5.5l-3.65 -5.5ZM1436.65 334.66l3.65 5.5l-3.65 5.5l-3.65 -5.5ZM1436.65 345.95l3.65 5.5l-3.65 5.5l-3.65 -5.5ZM1447.45 281.44l3.65 5.5l-3.65 5.5l-3.65 -5.5ZM1447.45 340.79l3.65 5.5l-3.65 5.5l-3.65 -5.5ZM1447.45 371.76l3.65 5.5l-3.65 5.5l-3.65 -5.5ZM1458.25 312.08l3.65 5.5l-3.65 5.5l-3.65 -5.5ZM1458.25 325.63l3.65 5.5l-3.65 5.5l-3.65 -5.5ZM1458.25 378.53l3.65 5.5l-3.65 5.5l-3.65 -5.5ZM1469.05 302.08l3.65 5.5l-3.65 5.5l-3.65 -5.5ZM1469.05 332.08l3.65 5.5l-3.65 5.5l-3.65 -5.5ZM1469.05 335.31l3.65 5.5l-3.65 5.5l-3.65 -5.5ZM1479.85 249.18l3.65 5.5l-3.65 5.5l-3.65 -5.5ZM1479.85 347.24l3.65 5.5l-3.65 5.5l-3.65 -5.5ZM1479.85 364.66l3.65 5.5l-3.65 5.5l-3.65 -5.5ZM1490.65 249.18l3.65 5.5l-3.65 5.5l-3.65 -5.5ZM1490.65 364.02l3.65 5.5l-3.65 5.5l-3.65 -5.5ZM1501.45 277.56l3.65 5.5l-3.65 5.5l-3.65 -5.5ZM1501.45 331.11l3.65 5.5l-3.65 5.5l-3.65 -5.5ZM1501.45 383.05l3.65 5.5l-3.65 5.5l-3.65 -5.5ZM1512.25 259.82l3.65 5.5l-3.65 5.5l-3.65 -5.5ZM1512.25 263.05l3.65 5.5l-3.65 5.5l-3.65 -5.5ZM1512.25 364.98l3.65 5.5l-3.65 5.5l-3.65 -5.5ZM1523.05 303.05l3.65 5.5l-3.65 5.5l-3.65 -5.5ZM1523.05 308.85l3.65 5.5l-3.65 5.5l-3.65 -5.5ZM1523.05 353.69l3.65 5.5l-3.65 5.5l-3.65 -5.5ZM1533.85 278.53l3.65 5.5l-3.65 5.5l-3.65 -5.5ZM1533.85 329.18l3.65 5.5l-3.65 5.5l-3.65 -5.5ZM1533.85 343.69l3.65 5.5l-3.65 5.5l-3.65 -5.5ZM1544.65 301.11l3.65 5.5l-3.65 5.5l-3.65 -5.5ZM1544.65 332.08l3.65 5.5l-3.65 5.5l-3.65 -5.5ZM1544.65 357.89l3.65 5.5l-3.65 5.5l-3.65 -5.5ZM1555.45 329.18l3.65 5.5l-3.65 5.5l-3.65 -5.5ZM1555.45 331.11l3.65 5.5l-3.65 5.5l-3.65 -5.5ZM1555.45 352.40l3.65 5.5l-3.65 5.5l-3.65 -5.5ZM1555.45 370.47l3.65 5.5l-3.65 5.5l-3.65 -5.5ZM1566.25 302.08l3.65 5.5l-3.65 5.5l-3.65 -5.5ZM1566.25 340.79l3.65 5.5l-3.65 5.5l-3.65 -5.5ZM1566.25 380.47l3.65 5.5l-3.65 5.5l-3.65 -5.5ZM1566.25 386.92l3.65 5.5l-3.65 5.5l-3.65 -5.5ZM1577.05 294.34l3.65 5.5l-3.65 5.5l-3.65 -5.5ZM1577.05 340.79l3.65 5.5l-3.65 5.5l-3.65 -5.5ZM1577.05 359.18l3.65 5.5l-3.65 5.5l-3.65 -5.5ZM1587.85 292.08l3.65 5.5l-3.65 5.5l-3.65 -5.5ZM1587.85 303.05l3.65 5.5l-3.65 5.5l-3.65 -5.5ZM1587.85 365.63l3.65 5.5l-3.65 5.5l-3.65 -5.5ZM1598.65 267.89l3.65 5.5l-3.65 5.5l-3.65 -5.5ZM1598.65 324.66l3.65 5.5l-3.65 5.5l-3.65 -5.5ZM1598.65 347.24l3.65 5.5l-3.65 5.5l-3.65 -5.5ZM1609.45 307.89l3.65 5.5l-3.65 5.5l-3.65 -5.5ZM1609.45 316.27l3.65 5.5l-3.65 5.5l-3.65 -5.5ZM1609.45 349.82l3.65 5.5l-3.65 5.5l-3.65 -5.5ZM1620.25 280.79l3.65 5.5l-3.65 5.5l-3.65 -5.5ZM1620.25 332.73l3.65 5.5l-3.65 5.5l-3.65 -5.5ZM1631.05 287.56l3.65 5.5l-3.65 5.5l-3.65 -5.5ZM1641.85 304.02l3.65 5.5l-3.65 5.5l-3.65 -5.5ZM1641.85 342.73l3.65 5.5l-3.65 5.5l-3.65 -5.5ZM1652.65 361.11l3.65 5.5l-3.65 5.5l-3.65 -5.5ZM1652.65 374.02l3.65 5.5l-3.65 5.5l-3.65 -5.5ZM183.85 407.73l3.65 5.5l-3.65 5.5l-3.65 -5.5ZM183.85 413.65l3.65 5.5l-3.65 5.5l-3.65 -5.5ZM183.85 511.79l3.65 5.5l-3.65 5.5l-3.65 -5.5ZM183.85 530.32l3.65 5.5l-3.65 5.5l-3.65 -5.5ZM183.85 537.02l3.65 5.5l-3.65 5.5l-3.65 -5.5ZM227.05 378.17l3.65 5.5l-3.65 5.5l-3.65 -5.5ZM237.85 390.00l3.65 5.5l-3.65 5.5l-3.65 -5.5ZM237.85 543.32l3.65 5.5l-3.65 5.5l-3.65 -5.5ZM248.65 549.63l3.65 5.5l-3.65 5.5l-3.65 -5.5ZM270.25 392.36l3.65 5.5l-3.65 5.5l-3.65 -5.5ZM270.25 529.92l3.65 5.5l-3.65 5.5l-3.65 -5.5ZM270.25 543.32l3.65 5.5l-3.65 5.5l-3.65 -5.5ZM281.05 543.32l3.65 5.5l-3.65 5.5l-3.65 -5.5ZM324.25 370.68l3.65 5.5l-3.65 5.5l-3.65 -5.5ZM356.65 388.03l3.65 5.5l-3.65 5.5l-3.65 -5.5ZM821.05 472.80l3.65 5.5l-3.65 5.5l-3.65 -5.5ZM842.65 470.93l3.65 5.5l-3.65 5.5l-3.65 -5.5ZM853.45 471.86l3.65 5.5l-3.65 5.5l-3.65 -5.5ZM875.05 459.75l3.65 5.5l-3.65 5.5l-3.65 -5.5ZM875.05 460.16l3.65 5.5l-3.65 5.5l-3.65 -5.5ZM896.65 463.31l3.65 5.5l-3.65 5.5l-3.65 -5.5ZM896.65 482.23l3.65 5.5l-3.65 5.5l-3.65 -5.5ZM896.65 555.94l3.65 5.5l-3.65 5.5l-3.65 -5.5ZM907.45 467.25l3.65 5.5l-3.65 5.5l-3.65 -5.5ZM907.45 475.92l3.65 5.5l-3.65 5.5l-3.65 -5.5ZM907.45 484.59l3.65 5.5l-3.65 5.5l-3.65 -5.5ZM918.25 427.05l3.65 5.5l-3.65 5.5l-3.65 -5.5ZM1058.65 370.68l3.65 5.5l-3.65 5.5l-3.65 -5.5ZM1274.65 519.68l3.65 5.5l-3.65 5.5l-3.65 -5.5ZM1285.45 513.76l3.65 5.5l-3.65 5.5l-3.65 -5.5ZM1296.25 523.62l3.65 5.5l-3.65 5.5l-3.65 -5.5ZM1307.05 519.68l3.65 5.5l-3.65 5.5l-3.65 -5.5ZM1317.85 526.77l3.65 5.5l-3.65 5.5l-3.65 -5.5ZM1328.65 524.80l3.65 5.5l-3.65 5.5l-3.65 -5.5ZM1339.45 524.80l3.65 5.5l-3.65 5.5l-3.65 -5.5ZM1350.25 515.73l3.65 5.5l-3.65 5.5l-3.65 -5.5ZM1371.85 524.80l3.65 5.5l-3.65 5.5l-3.65 -5.5ZM1415.05 520.46l3.65 5.5l-3.65 5.5l-3.65 -5.5ZM1425.85 413.65l3.65 5.5l-3.65 5.5l-3.65 -5.5ZM1425.85 523.22l3.65 5.5l-3.65 5.5l-3.65 -5.5ZM1425.85 527.16l3.65 5.5l-3.65 5.5l-3.65 -5.5ZM1479.85 530.71l3.65 5.5l-3.65 5.5l-3.65 -5.5ZM1555.45 542.54l3.65 5.5l-3.65 5.5l-3.65 -5.5ZM1674.25 373.84l3.65 5.5l-3.65 5.5l-3.65 -5.5ZM1674.25 382.11l3.65 5.5l-3.65 5.5l-3.65 -5.5ZM1771.45 399.85l3.65 5.5l-3.65 5.5l-3.65 -5.5ZM1771.45 415.22l3.65 5.5l-3.65 5.5l-3.65 -5.5ZM1782.25 382.90l3.65 5.5l-3.65 5.5l-3.65 -5.5ZM1793.05 387.63l3.65 5.5l-3.65 5.5l-3.65 -5.5ZM1825.45 397.49l3.65 5.5l-3.65 5.5l-3.65 -5.5ZM1847.05 397.49l3.65 5.5l-3.65 5.5l-3.65 -5.5ZM1868.65 522.43l3.65 5.5l-3.65 5.5l-3.65 -5.5ZM1879.45 519.28l3.65 5.5l-3.65 5.5l-3.65 -5.5ZM1901.05 388.03l3.65 5.5l-3.65 5.5l-3.65 -5.5ZM1901.05 398.67l3.65 5.5l-3.65 5.5l-3.65 -5.5ZM1901.05 516.92l3.65 5.5l-3.65 5.5l-3.65 -5.5ZM1901.05 530.71l3.65 5.5l-3.65 5.5l-3.65 -5.5ZM1933.45 521.65l3.65 5.5l-3.65 5.5l-3.65 -5.5ZM1944.25 511.40l3.65 5.5l-3.65 5.5l-3.65 -5.5ZM1955.05 510.61l3.65 5.5l-3.65 5.5l-3.65 -5.5ZM1976.65 527.56l3.65 5.5l-3.65 5.5l-3.65 -5.5ZM1987.45 508.64l3.65 5.5l-3.65 5.5l-3.65 -5.5ZM1998.25 382.90l3.65 5.5l-3.65 5.5l-3.65 -5.5ZM1998.25 409.70l3.65 5.5l-3.65 5.5l-3.65 -5.5ZM1998.25 481.44l3.65 5.5l-3.65 5.5l-3.65 -5.5ZM1998.25 507.46l3.65 5.5l-3.65 5.5l-3.65 -5.5ZM1998.25 512.58l3.65 5.5l-3.65 5.5l-3.65 -5.5ZM2030.65 388.03l3.65 5.5l-3.65 5.5l-3.65 -5.5ZM2030.65 391.18l3.65 5.5l-3.65 5.5l-3.65 -5.5ZM2030.65 401.82l3.65 5.5l-3.65 5.5l-3.65 -5.5ZM2030.65 515.73l3.65 5.5l-3.65 5.5l-3.65 -5.5ZM2041.45 512.58l3.65 5.5l-3.65 5.5l-3.65 -5.5ZM2063.05 411.68l3.65 5.5l-3.65 5.5l-3.65 -5.5ZM2063.05 503.91l3.65 5.5l-3.65 5.5l-3.65 -5.5ZM2073.85 513.76l3.65 5.5l-3.65 5.5l-3.65 -5.5ZM2084.65 508.24l3.65 5.5l-3.65 5.5l-3.65 -5.5ZM2106.25 510.61l3.65 5.5l-3.65 5.5l-3.65 -5.5ZM2117.05 380.93l3.65 5.5l-3.65 5.5l-3.65 -5.5ZM2117.05 365.95l3.65 5.5l-3.65 5.5l-3.65 -5.5ZM2117.05 500.36l3.65 5.5l-3.65 5.5l-3.65 -5.5ZM2127.85 503.91l3.65 5.5l-3.65 5.5l-3.65 -5.5ZM2138.65 377.78l3.65 5.5l-3.65 5.5l-3.65 -5.5ZM2138.65 388.03l3.65 5.5l-3.65 5.5l-3.65 -5.5ZM2138.65 482.62l3.65 5.5l-3.65 5.5l-3.65 -5.5ZM2138.65 495.63l3.65 5.5l-3.65 5.5l-3.65 -5.5ZM2160.25 387.24l3.65 5.5l-3.65 5.5l-3.65 -5.5ZM2160.25 489.72l3.65 5.5l-3.65 5.5l-3.65 -5.5ZM2160.25 495.63l3.65 5.5l-3.65 5.5l-3.65 -5.5ZM2192.65 386.05l3.65 5.5l-3.65 5.5l-3.65 -5.5ZM2192.65 495.63l3.65 5.5l-3.65 5.5l-3.65 -5.5ZM2257.45 507.46l3.65 5.5l-3.65 5.5l-3.65 -5.5ZM2279.05 512.58l3.65 5.5l-3.65 5.5l-3.65 -5.5ZM2289.85 472.77l3.65 5.5l-3.65 5.5l-3.65 -5.5ZM2289.85 488.54l3.65 5.5l-3.65 5.5l-3.65 -5.5ZM2289.85 508.24l3.65 5.5l-3.65 5.5l-3.65 -5.5ZM2300.65 508.24l3.65 5.5l-3.65 5.5l-3.65 -5.5ZM2311.45 512.58l3.65 5.5l-3.65 5.5l-3.65 -5.5ZM2322.25 483.81l3.65 5.5l-3.65 5.5l-3.65 -5.5ZM2322.25 494.84l3.65 5.5l-3.65 5.5l-3.65 -5.5ZM2322.25 497.60l3.65 5.5l-3.65 5.5l-3.65 -5.5ZM2343.85 513.76l3.65 5.5l-3.65 5.5l-3.65 -5.5ZM2365.45 385.27l3.65 5.5l-3.65 5.5l-3.65 -5.5ZM2365.45 389.21l3.65 5.5l-3.65 5.5l-3.65 -5.5ZM2397.85 379.75l3.65 5.5l-3.65 5.5l-3.65 -5.5ZM2678.65 445.57l3.65 5.5l-3.65 5.5l-3.65 -5.5ZM2700.25 444.78l3.65 5.5l-3.65 5.5l-3.65 -5.5ZM2721.85 442.03l3.65 5.5l-3.65 5.5l-3.65 -5.5ZM2721.85 450.70l3.65 5.5l-3.65 5.5l-3.65 -5.5ZM2721.85 457.79l3.65 5.5l-3.65 5.5l-3.65 -5.5ZM2721.85 548.05l3.65 5.5l-3.65 5.5l-3.65 -5.5ZM2732.65 453.85l3.65 5.5l-3.65 5.5l-3.65 -5.5ZM2732.65 459.76l3.65 5.5l-3.65 5.5l-3.65 -5.5ZM2754.25 457.79l3.65 5.5l-3.65 5.5l-3.65 -5.5ZM2754.25 548.05l3.65 5.5l-3.65 5.5l-3.65 -5.5ZM2765.05 446.76l3.65 5.5l-3.65 5.5l-3.65 -5.5ZM2786.65 425.86l3.65 5.5l-3.65 5.5l-3.65 -5.5ZM2829.85 431.78l3.65 5.5l-3.65 5.5l-3.65 -5.5ZM2851.45 375.02l3.65 5.5l-3.65 5.5l-3.65 -5.5ZM3078.25 389.21l3.65 5.5l-3.65 5.5l-3.65 -5.5ZM3143.05 386.84l3.65 5.5l-3.65 5.5l-3.65 -5.5ZM3143.05 521.65l3.65 5.5l-3.65 5.5l-3.65 -5.5ZM1166.65 368.90l3.65 5.5l-3.65 5.5l-3.65 -5.5ZM1166.65 379.50l3.65 5.5l-3.65 5.5l-3.65 -5.5ZM1188.25 251.80l3.65 5.5l-3.65 5.5l-3.65 -5.5ZM1199.05 232.10l3.65 5.5l-3.65 5.5l-3.65 -5.5ZM1220.65 224.70l3.65 5.5l-3.65 5.5l-3.65 -5.5ZM1220.65 356.30l3.65 5.5l-3.65 5.5l-3.65 -5.5ZM1242.25 329.20l3.65 5.5l-3.65 5.5l-3.65 -5.5ZM1253.05 282.10l3.65 5.5l-3.65 5.5l-3.65 -5.5ZM1263.85 216.00l3.65 5.5l-3.65 5.5l-3.65 -5.5ZM1263.85 287.90l3.65 5.5l-3.65 5.5l-3.65 -5.5ZM1274.65 324.70l3.65 5.5l-3.65 5.5l-3.65 -5.5ZM1285.45 213.40l3.65 5.5l-3.65 5.5l-3.65 -5.5ZM1285.45 322.10l3.65 5.5l-3.65 5.5l-3.65 -5.5ZM1296.25 340.10l3.65 5.5l-3.65 5.5l-3.65 -5.5ZM1307.05 352.70l3.65 5.5l-3.65 5.5l-3.65 -5.5ZM1317.85 387.20l3.65 5.5l-3.65 5.5l-3.65 -5.5ZM1328.65 387.20l3.65 5.5l-3.65 5.5l-3.65 -5.5ZM1339.45 387.90l3.65 5.5l-3.65 5.5l-3.65 -5.5ZM1350.25 358.20l3.65 5.5l-3.65 5.5l-3.65 -5.5ZM1361.05 226.60l3.65 5.5l-3.65 5.5l-3.65 -5.5ZM1361.05 340.80l3.65 5.5l-3.65 5.5l-3.65 -5.5ZM1371.85 339.20l3.65 5.5l-3.65 5.5l-3.65 -5.5ZM1371.85 367.90l3.65 5.5l-3.65 5.5l-3.65 -5.5ZM1382.65 247.20l3.65 5.5l-3.65 5.5l-3.65 -5.5ZM1382.65 322.70l3.65 5.5l-3.65 5.5l-3.65 -5.5ZM1382.65 364.00l3.65 5.5l-3.65 5.5l-3.65 -5.5ZM1393.45 223.70l3.65 5.5l-3.65 5.5l-3.65 -5.5ZM1393.45 342.70l3.65 5.5l-3.65 5.5l-3.65 -5.5ZM1393.45 383.70l3.65 5.5l-3.65 5.5l-3.65 -5.5ZM1209.85 203.00l3.65 5.5l-3.65 5.5l-3.65 -5.5ZM1231.45 197.90l3.65 5.5l-3.65 5.5l-3.65 -5.5ZM1242.25 199.50l3.65 5.5l-3.65 5.5l-3.65 -5.5ZM1253.05 182.70l3.65 5.5l-3.65 5.5l-3.65 -5.5ZM1274.65 156.90l3.65 5.5l-3.65 5.5l-3.65 -5.5ZM1296.25 184.60l3.65 5.5l-3.65 5.5l-3.65 -5.5ZM1307.05 182.40l3.65 5.5l-3.65 5.5l-3.65 -5.5ZM1317.85 150.10l3.65 5.5l-3.65 5.5l-3.65 -5.5ZM1328.65 114.00l3.65 5.5l-3.65 5.5l-3.65 -5.5ZM1339.45 180.80l3.65 5.5l-3.65 5.5l-3.65 -5.5ZM1350.25 196.90l3.65 5.5l-3.65 5.5l-3.65 -5.5ZM1371.85 202.70l3.65 5.5l-3.65 5.5l-3.65 -5.5ZM1577.05 200.50l3.65 5.5l-3.65 5.5l-3.65 -5.5ZM1101.85 352.70l3.65 5.5l-3.65 5.5l-3.65 -5.5ZM1123.45 353.70l3.65 5.5l-3.65 5.5l-3.65 -5.5ZM1663.45 355.00l3.65 5.5l-3.65 5.5l-3.65 -5.5ZM1695.85 290.80l3.65 5.5l-3.65 5.5l-3.65 -5.5ZM2376.25 366.90l3.65 5.5l-3.65 5.5l-3.65 -5.5ZM2387.05 335.60l3.65 5.5l-3.65 5.5l-3.65 -5.5ZM2473.45 367.60l3.65 5.5l-3.65 5.5l-3.65 -5.5ZM2484.25 370.80l3.65 5.5l-3.65 5.5l-3.65 -5.5ZM2862.25 348.20l3.65 5.5l-3.65 5.5l-3.65 -5.5ZM2873.05 315.60l3.65 5.5l-3.65 5.5l-3.65 -5.5ZM2883.85 275.00l3.65 5.5l-3.65 5.5l-3.65 -5.5ZM2894.65 313.70l3.65 5.5l-3.65 5.5l-3.65 -5.5ZM2905.45 357.90l3.65 5.5l-3.65 5.5l-3.65 -5.5ZM2916.25 318.90l3.65 5.5l-3.65 5.5l-3.65 -5.5ZM2927.05 327.90l3.65 5.5l-3.65 5.5l-3.65 -5.5ZM2937.85 312.10l3.65 5.5l-3.65 5.5l-3.65 -5.5ZM2948.65 253.70l3.65 5.5l-3.65 5.5l-3.65 -5.5ZM2959.45 236.60l3.65 5.5l-3.65 5.5l-3.65 -5.5ZM2959.45 286.00l3.65 5.5l-3.65 5.5l-3.65 -5.5ZM2970.25 334.70l3.65 5.5l-3.65 5.5l-3.65 -5.5ZM2981.05 223.70l3.65 5.5l-3.65 5.5l-3.65 -5.5ZM2991.85 282.70l3.65 5.5l-3.65 5.5l-3.65 -5.5ZM3002.65 290.80l3.65 5.5l-3.65 5.5l-3.65 -5.5ZM3013.45 321.80l3.65 5.5l-3.65 5.5l-3.65 -5.5ZM3024.25 317.90l3.65 5.5l-3.65 5.5l-3.65 -5.5ZM3035.05 312.70l3.65 5.5l-3.65 5.5l-3.65 -5.5ZM3045.85 295.60l3.65 5.5l-3.65 5.5l-3.65 -5.5ZM3067.45 321.80l3.65 5.5l-3.65 5.5l-3.65 -5.5ZM3078.25 317.90l3.65 5.5l-3.65 5.5l-3.65 -5.5ZM3089.05 362.70l3.65 5.5l-3.65 5.5l-3.65 -5.5ZM3099.85 329.80l3.65 5.5l-3.65 5.5l-3.65 -5.5ZM3099.85 352.40l3.65 5.5l-3.65 5.5l-3.65 -5.5ZM3099.85 358.50l3.65 5.5l-3.65 5.5l-3.65 -5.5ZM3110.65 324.70l3.65 5.5l-3.65 5.5l-3.65 -5.5ZM3121.45 338.90l3.65 5.5l-3.65 5.5l-3.65 -5.5ZM3132.25 356.00l3.65 5.5l-3.65 5.5l-3.65 -5.5ZM2970.25 179.80l3.65 5.5l-3.65 5.5l-3.65 -5.5ZM2991.85 146.60l3.65 5.5l-3.65 5.5l-3.65 -5.5ZM3002.65 134.60l3.65 5.5l-3.65 5.5l-3.65 -5.5ZM3013.45 147.50l3.65 5.5l-3.65 5.5l-3.65 -5.5ZM3024.25 167.90l3.65 5.5l-3.65 5.5l-3.65 -5.5ZM3035.05 178.80l3.65 5.5l-3.65 5.5l-3.65 -5.5ZM3045.85 175.60l3.65 5.5l-3.65 5.5l-3.65 -5.5ZM3056.65 173.30l3.65 5.5l-3.65 5.5l-3.65 -5.5ZM3067.45 147.50l3.65 5.5l-3.65 5.5l-3.65 -5.5ZM3078.25 71.70l3.65 5.5l-3.65 5.5l-3.65 -5.5ZM3089.05 159.80l3.65 5.5l-3.65 5.5l-3.65 -5.5ZM97.45 518.90l3.65 5.5l-3.65 5.5l-3.65 -5.5ZM97.45 526.80l3.65 5.5l-3.65 5.5l-3.65 -5.5ZM97.45 321.40l3.65 5.5l-3.65 5.5l-3.65 -5.5ZM97.45 356.30l3.65 5.5l-3.65 5.5l-3.65 -5.5ZM97.45 376.60l3.65 5.5l-3.65 5.5l-3.65 -5.5ZM108.25 372.40l3.65 5.5l-3.65 5.5l-3.65 -5.5ZM108.25 380.50l3.65 5.5l-3.65 5.5l-3.65 -5.5ZM119.05 379.50l3.65 5.5l-3.65 5.5l-3.65 -5.5ZM140.65 346.00l3.65 5.5l-3.65 5.5l-3.65 -5.5ZM151.45 374.00l3.65 5.5l-3.65 5.5l-3.65 -5.5ZM151.45 378.50l3.65 5.5l-3.65 5.5l-3.65 -5.5ZM151.45 387.90l3.65 5.5l-3.65 5.5l-3.65 -5.5ZM162.25 380.50l3.65 5.5l-3.65 5.5l-3.65 -5.5ZM173.05 359.50l3.65 5.5l-3.65 5.5l-3.65 -5.5ZM183.85 362.70l3.65 5.5l-3.65 5.5l-3.65 -5.5ZM194.65 348.20l3.65 5.5l-3.65 5.5l-3.65 -5.5ZM216.25 348.20l3.65 5.5l-3.65 5.5l-3.65 -5.5Z" fill="#444444"/>
<polyline points="97.45,526.75 108.25,516.90 119.05,498.37 129.85,503.10 140.65,524.78 151.45,507.04 162.25,510.20 173.05,507.04 183.85,505.47 194.65,525.96 205.45,523.20 216.25,518.87 227.05,518.87 237.85,527.54 248.65,521.63 259.45,518.87 270.25,524.78 281.05,521.63 291.85,518.87 302.65,514.53 313.45,527.93 324.25,538.18 335.05,531.88 345.85,538.18 356.65,535.82 367.45,523.99 378.25,533.45 389.05,530.69 399.85,514.14 410.65,521.23 421.45,518.87 432.25,524.78 443.05,515.72 453.85,529.12 464.65,523.99 475.45,512.96 486.25,532.66 497.05,548.43 507.85,538.58 518.65,530.69 529.45,541.34 540.25,545.28 551.05,548.43 561.85,542.52 572.65,544.49 583.45,551.19 594.25,554.74 605.05,552.77 615.85,556.80 626.65,556.80 637.45,559.83 648.25,562.86" fill="none" stroke="#0000ff" stroke-width="2.08" stroke-linejoin="miter"/>
<polyline points="680.65,567.29 691.45,562.16 702.25,563.79 713.05,563.33 723.85,562.63 734.65,561.23 745.45,557.50 756.25,557.04 767.05,560.76 777.85,559.37 788.65,559.83 799.45,553.77 810.25,556.80 821.05,552.84 831.85,550.28 842.65,548.18 853.45,544.22 864.25,548.65 875.05,548.43 885.85,550.80 896.65,548.82 907.45,544.09 918.25,544.49 929.05,534.24 939.85,528.72 950.65,525.96 961.45,523.99 972.25,514.93 983.05,514.93 993.85,517.29 1004.65,508.62 1015.45,510.20 1026.25,509.80 1037.05,498.77 1047.85,500.74 1058.65,488.12 1069.45,503.10 1080.25,480.64 1091.05,470.39 1101.85,475.12 1112.65,481.42 1123.45,479.06 1134.25,477.88 1145.05,461.72 1155.85,478.27 1166.65,483.39 1177.45,487.73 1188.25,450.68 1199.05,454.23 1209.85,483.39 1220.65,477.48 1231.45,488.91 1242.25,487.34 1253.05,492.07 1263.85,499.95 1274.65,448.31 1285.45,426.24 1296.25,449.10 1307.05,415.99 1317.85,425.06 1328.65,451.47 1339.45,418.36 1350.25,348.99 1361.05,419.54 1371.85,401.41 1382.65,436.09 1393.45,377.90 1404.25,361.77 1415.05,339.19 1425.85,403.38 1436.65,367.58 1447.45,372.42 1458.25,424.27 1469.05,469.60 1479.85,515.72 1490.65,514.14 1501.45,516.90 1512.25,532.27 1523.05,534.24 1533.85,514.53 1544.65,522.42 1555.45,513.35 1566.25,524.39 1577.05,521.63 1587.85,514.53 1598.65,529.51 1609.45,529.91 1620.25,535.42 1631.05,534.64 1641.85,537.39 1652.65,522.02 1663.45,531.48 1674.25,527.93 1685.05,527.93 1695.85,518.08 1706.65,515.72 1717.45,526.36 1728.25,513.74 1739.05,525.96 1749.85,514.93 1760.65,502.71 1771.45,500.74 1782.25,523.60 1793.05,505.07 1803.85,499.95 1814.65,503.89 1825.45,516.90 1836.25,506.65 1847.05,516.90 1857.85,505.86 1868.65,519.26 1879.45,504.28 1890.25,498.77 1901.05,501.53 1911.85,504.68 1922.65,501.53 1933.45,502.31 1944.25,488.91 1955.05,510.20 1965.85,488.52 1976.65,492.07 1987.45,488.91 1998.25,477.09 2009.05,475.12 2019.85,487.34 2030.65,486.15 2041.45,489.31 2052.25,482.21 2063.05,466.45 2073.85,467.23 2084.65,425.45 2095.45,469.60 2106.25,466.45 2117.05,445.95 2127.85,451.07 2138.65,465.66 2149.45,445.16 2160.25,468.42 2171.05,464.87 2181.85,458.17 2192.65,457.38 2203.45,471.18 2214.25,471.18 2225.05,488.12 2235.85,488.52 2246.65,481.82 2257.45,486.55 2268.25,468.42 2279.05,444.37 2289.85,460.14 2300.65,474.72 2311.45,478.27 2322.25,492.85 2333.05,486.15 2343.85,491.28 2354.65,497.19 2365.45,514.93 2376.25,520.45 2387.05,525.57 2397.85,529.12 2408.65,527.54 2419.45,537.00 2430.25,533.45 2441.05,544.09 2451.85,537.79 2462.65,541.73 2473.45,534.64 2484.25,539.36 2495.05,540.94 2505.85,539.36 2516.65,531.48 2527.45,547.64 2538.25,553.16 2549.05,554.74 2559.85,556.31 2570.65,559.07 2581.45,554.74 2592.25,564.20 2603.05,564.59 2613.85,559.47 2624.65,561.04 2635.45,556.71 2646.25,562.23 2657.05,564.99 2667.85,560.26 2678.65,552.37 2689.45,557.89 2700.25,559.47 2711.05,553.16 2721.85,550.80 2732.65,543.31 2743.45,543.31 2754.25,539.76 2765.05,536.21 2775.85,542.12 2786.65,547.25 2797.45,546.07 2808.25,537.39 2819.05,540.55 2829.85,533.45 2840.65,531.48 2851.45,512.96 2862.25,497.98 2873.05,489.70 2883.85,501.92 2894.65,492.07 2905.45,489.70 2916.25,469.60 2927.05,451.47 2937.85,475.51 2948.65,479.45 2959.45,479.85 2970.25,450.28 2981.05,445.16 2991.85,434.12 3002.65,471.18 3013.45,466.45 3024.25,442.40 3035.05,458.56 3045.85,456.59 3056.65,490.49 3067.45,478.27 3078.25,474.33 3089.05,497.98 3099.85,503.50 3110.65,509.41 3121.45,503.89 3132.25,498.37 3143.05,516.90 3153.85,527.54 3164.65,510.20 3175.45,512.56 3186.25,483.39" fill="none" stroke="#0000ff" stroke-width="2.08" stroke-linejoin="miter"/>
<path d="M198.0 53.9V591.2" stroke="#4c72b0" stroke-width="2" shape-rendering="crispEdges"/>
<path d="M1175.0 53.9V591.2" stroke="#4c72b0" stroke-width="2" shape-rendering="crispEdges"/>
<path d="M2203.0 53.9V591.2" stroke="#4c72b0" stroke-width="2" shape-rendering="crispEdges"/>
<path d="M2943.0 53.9V591.2" stroke="#4c72b0" stroke-width="2" shape-rendering="crispEdges"/>
<path d="M3112.0 53.9V591.2" stroke="#4c72b0" stroke-width="2" shape-rendering="crispEdges"/>
</g>
<text x="202.4" y="106.0" font-size="18" fill="#262626" text-anchor="start" textLength="25.3" lengthAdjust="spacingAndGlyphs">DM</text>
<text x="201.1" y="126.7" font-size="18" fill="#262626" text-anchor="start" textLength="26.1" lengthAdjust="spacingAndGlyphs">Set</text>
<text x="1179.4" y="106.0" font-size="18" fill="#262626" text-anchor="start" textLength="22.8" lengthAdjust="spacingAndGlyphs">PM</text>
<text x="1178.1" y="126.7" font-size="18" fill="#262626" text-anchor="start" textLength="26.1" lengthAdjust="spacingAndGlyphs">Set</text>
<text x="2207.4" y="106.0" font-size="18" fill="#262626" text-anchor="start" textLength="17.6" lengthAdjust="spacingAndGlyphs">JN</text>
<text x="2206.1" y="126.7" font-size="18" fill="#262626" text-anchor="start" textLength="26.1" lengthAdjust="spacingAndGlyphs">Set</text>
<text x="2947.4" y="106.0" font-size="18" fill="#262626" text-anchor="start" textLength="20.6" lengthAdjust="spacingAndGlyphs">FN</text>
<text x="2946.1" y="126.7" font-size="18" fill="#262626" text-anchor="start" textLength="26.1" lengthAdjust="spacingAndGlyphs">Set</text>
<text x="3116.4" y="106.0" font-size="18" fill="#262626" text-anchor="start" textLength="23.2" lengthAdjust="spacingAndGlyphs">EM</text>
<text x="3115.1" y="126.7" font-size="18" fill="#262626" text-anchor="start" textLength="26.1" lengthAdjust="spacingAndGlyphs">Set</text>
<text x="83.2" y="573.9" font-size="16.4" fill="#262626" text-anchor="end" textLength="9.26" lengthAdjust="spacingAndGlyphs">0</text>
<text x="83.2" y="510.8" font-size="16.4" fill="#262626" text-anchor="end" textLength="37.339999999999996" lengthAdjust="spacingAndGlyphs">5000</text>
<text x="83.2" y="447.7" font-size="16.4" fill="#262626" text-anchor="end" textLength="46.699999999999996" lengthAdjust="spacingAndGlyphs">10000</text>
<text x="83.2" y="384.6" font-size="16.4" fill="#262626" text-anchor="end" textLength="46.699999999999996" lengthAdjust="spacingAndGlyphs">15000</text>
<text x="83.2" y="321.5" font-size="16.4" fill="#262626" text-anchor="end" textLength="46.699999999999996" lengthAdjust="spacingAndGlyphs">20000</text>
<text x="83.2" y="258.40000000000003" font-size="16.4" fill="#262626" text-anchor="end" textLength="46.699999999999996" lengthAdjust="spacingAndGlyphs">25000</text>
<text x="83.2" y="195.3" font-size="16.4" fill="#262626" text-anchor="end" textLength="46.699999999999996" lengthAdjust="spacingAndGlyphs">30000</text>
<text x="83.2" y="132.2" font-size="16.4" fill="#262626" text-anchor="end" textLength="46.699999999999996" lengthAdjust="spacingAndGlyphs">35000</text>
<text x="83.2" y="69.09999999999995" font-size="16.4" fill="#262626" text-anchor="end" textLength="46.699999999999996" lengthAdjust="spacingAndGlyphs">40000</text>
<text x="101.45" y="660.0" font-size="16.4" fill="#262626" text-anchor="start" textLength="52.4" lengthAdjust="spacingAndGlyphs" transform="rotate(-90 101.45 660.0)">00:00Z</text>
<text x="166.25" y="660.0" font-size="16.4" fill="#262626" text-anchor="start" textLength="52.4" lengthAdjust="spacingAndGlyphs" transform="rotate(-90 166.25 660.0)">00:30Z</text>
<text x="231.05" y="660.0" font-size="16.4" fill="#262626" text-anchor="start" textLength="52.4" lengthAdjust="spacingAndGlyphs" transform="rotate(-90 231.05 660.0)">01:00Z</text>
<text x="295.85" y="660.0" font-size="16.4" fill="#262626" text-anchor="start" textLength="52.4" lengthAdjust="spacingAndGlyphs" transform="rotate(-90 295.85 660.0)">01:30Z</text>
<text x="360.65000000000003" y="660.0" font-size="16.4" fill="#262626" text-anchor="start" textLength="52.4" lengthAdjust="spacingAndGlyphs" transform="rotate(-90 360.65000000000003 660.0)">02:00Z</text>
<text x="425.45" y="660.0" font-size="16.4" fill="#262626" text-anchor="start" textLength="52.4" lengthAdjust="spacingAndGlyphs" transform="rotate(-90 425.45 660.0)">02:30Z</text>
<text x="490.25" y="660.0" font-size="16.4" fill="#262626" text-anchor="start" textLength="52.4" lengthAdjust="spacingAndGlyphs" transform="rotate(-90 490.25 660.0)">03:00Z</text>
<text x="555.0500000000001" y="660.0" font-size="16.4" fill="#262626" text-anchor="start" textLength="52.4" lengthAdjust="spacingAndGlyphs" transform="rotate(-90 555.0500000000001 660.0)">03:30Z</text>
<text x="619.8500000000001" y="660.0" font-size="16.4" fill="#262626" text-anchor="start" textLength="52.4" lengthAdjust="spacingAndGlyphs" transform="rotate(-90 619.8500000000001 660.0)">04:00Z</text>
<text x="684.6500000000001" y="660.0" font-size="16.4" fill="#262626" text-anchor="start" textLength="52.4" lengthAdjust="spacingAndGlyphs" transform="rotate(-90 684.6500000000001 660.0)">04:30Z</text>
<text x="749.45" y="660.0" font-size="16.4" fill="#262626" text-anchor="start" textLength="52.4" lengthAdjust="spacingAndGlyphs" transform="rotate(-90 749.45 660.0)">05:00Z</text>
<text x="814.2500000000001" y="660.0" font-size="16.4" fill="#262626" text-anchor="start" textLength="52.4" lengthAdjust="spacingAndGlyphs" transform="rotate(-90 814.2500000000001 660.0)">05:30Z</text>
<text x="879.0500000000001" y="660.0" font-size="16.4" fill="#262626" text-anchor="start" textLength="52.4" lengthAdjust="spacingAndGlyphs" transform="rotate(-90 879.0500000000001 660.0)">06:00Z</text>
<text x="943.8500000000001" y="660.0" font-size="16.4" fill="#262626" text-anchor="start" textLength="52.4" lengthAdjust="spacingAndGlyphs" transform="rotate(-90 943.8500000000001 660.0)">06:30Z</text>
<text x="1008.6500000000001" y="660.0" font-size="16.4" fill="#262626" text-anchor="start" textLength="52.4" lengthAdjust="spacingAndGlyphs" transform="rotate(-90 1008.6500000000001 660.0)">07:00Z</text>
<text x="1073.45" y="660.0" font-size="16.4" fill="#262626" text-anchor="start" textLength="52.4" lengthAdjust="spacingAndGlyphs" transform="rotate(-90 1073.45 660.0)">07:30Z</text>
<text x="1138.2500000000002" y="660.0" font-size="16.4" fill="#262626" text-anchor="start" textLength="52.4" lengthAdjust="spacingAndGlyphs" transform="rotate(-90 1138.2500000000002 660.0)">08:00Z</text>
<text x="1203.0500000000002" y="660.0" font-size="16.4" fill="#262626" text-anchor="start" textLength="52.4" lengthAdjust="spacingAndGlyphs" transform="rotate(-90 1203.0500000000002 660.0)">08:30Z</text>
<text x="1267.8500000000001" y="660.0" font-size="16.4" fill="#262626" text-anchor="start" textLength="52.4" lengthAdjust="spacingAndGlyphs" transform="rotate(-90 1267.8500000000001 660.0)">09:00Z</text>
<text x="1332.65" y="660.0" font-size="16.4" fill="#262626" text-anchor="start" textLength="52.4" lengthAdjust="spacingAndGlyphs" transform="rotate(-90 1332.65 660.0)">09:30Z</text>
<text x="1397.45" y="660.0" font-size="16.4" fill="#262626" text-anchor="start" textLength="52.4" lengthAdjust="spacingAndGlyphs" transform="rotate(-90 1397.45 660.0)">10:00Z</text>
<text x="1462.2500000000002" y="660.0" font-size="16.4" fill="#262626" text-anchor="start" textLength="52.4" lengthAdjust="spacingAndGlyphs" transform="rotate(-90 1462.2500000000002 660.0)">10:30Z</text>
<text x="1527.0500000000002" y="660.0" font-size="16.4" fill="#262626" text-anchor="start" textLength="52.4" lengthAdjust="spacingAndGlyphs" transform="rotate(-90 1527.0500000000002 660.0)">11:00Z</text>
<text x="1591.8500000000001" y="660.0" font-size="16.4" fill="#262626" text-anchor="start" textLength="52.4" lengthAdjust="spacingAndGlyphs" transform="rotate(-90 1591.8500000000001 660.0)">11:30Z</text>
<text x="1656.65" y="660.0" font-size="16.4" fill="#262626" text-anchor="start" textLength="52.4" lengthAdjust="spacingAndGlyphs" transform="rotate(-90 1656.65 660.0)">12:00Z</text>
<text x="1721.45" y="660.0" font-size="16.4" fill="#262626" text-anchor="start" textLength="52.4" lengthAdjust="spacingAndGlyphs" transform="rotate(-90 1721.45 660.0)">12:30Z</text>
<text x="1786.2500000000002" y="660.0" font-size="16.4" fill="#262626" text-anchor="start" textLength="52.4" lengthAdjust="spacingAndGlyphs" transform="rotate(-90 1786.2500000000002 660.0)">13:00Z</text>
<text x="1851.0500000000002" y="660.0" font-size="16.4" fill="#262626" text-anchor="start" textLength="52.4" lengthAdjust="spacingAndGlyphs" transform="rotate(-90 1851.0500000000002 660.0)">13:30Z</text>
<text x="1915.8500000000001" y="660.0" font-size="16.4" fill="#262626" text-anchor="start" textLength="52.4" lengthAdjust="spacingAndGlyphs" transform="rotate(-90 1915.8500000000001 660.0)">14:00Z</text>
<text x="1980.65" y="660.0" font-size="16.4" fill="#262626" text-anchor="start" textLength="52.4" lengthAdjust="spacingAndGlyphs" transform="rotate(-90 1980.65 660.0)">14:30Z</text>
<text x="2045.4500000000003" y="660.0" font-size="16.4" fill="#262626" text-anchor="start" textLength="52.4" lengthAdjust="spacingAndGlyphs" transform="rotate(-90 2045.4500000000003 660.0)">15:00Z</text>
<text x="2110.25" y="660.0" font-size="16.4" fill="#262626" text-anchor="start" textLength="52.4" lengthAdjust="spacingAndGlyphs" transform="rotate(-90 2110.25 660.0)">15:30Z</text>
<text x="2175.05" y="660.0" font-size="16.4" fill="#262626" text-anchor="start" textLength="52.4" lengthAdjust="spacingAndGlyphs" transform="rotate(-90 2175.05 660.0)">16:00Z</text>
<text x="2239.85" y="660.0" font-size="16.4" fill="#262626" text-anchor="start" textLength="52.4" lengthAdjust="spacingAndGlyphs" transform="rotate(-90 2239.85 660.0)">16:30Z</text>
<text x="2304.65" y="660.0" font-size="16.4" fill="#262626" text-anchor="start" textLength="52.4" lengthAdjust="spacingAndGlyphs" transform="rotate(-90 2304.65 660.0)">17:00Z</text>
<text x="2369.45" y="660.0" font-size="16.4" fill="#262626" text-anchor="start" textLength="52.4" lengthAdjust="spacingAndGlyphs" transform="rotate(-90 2369.45 660.0)">17:30Z</text>
<text x="2434.25" y="660.0" font-size="16.4" fill="#262626" text-anchor="start" textLength="52.4" lengthAdjust="spacingAndGlyphs" transform="rotate(-90 2434.25 660.0)">18:00Z</text>
<text x="2499.05" y="660.0" font-size="16.4" fill="#262626" text-anchor="start" textLength="52.4" lengthAdjust="spacingAndGlyphs" transform="rotate(-90 2499.05 660.0)">18:30Z</text>
<text x="2563.85" y="660.0" font-size="16.4" fill="#262626" text-anchor="start" textLength="52.4" lengthAdjust="spacingAndGlyphs" transform="rotate(-90 2563.85 660.0)">19:00Z</text>
<text x="2628.65" y="660.0" font-size="16.4" fill="#262626" text-anchor="start" textLength="52.4" lengthAdjust="spacingAndGlyphs" transform="rotate(-90 2628.65 660.0)">19:30Z</text>
<text x="2693.45" y="660.0" font-size="16.4" fill="#262626" text-anchor="start" textLength="52.4" lengthAdjust="spacingAndGlyphs" transform="rotate(-90 2693.45 660.0)">20:00Z</text>
<text x="2758.25" y="660.0" font-size="16.4" fill="#262626" text-anchor="start" textLength="52.4" lengthAdjust="spacingAndGlyphs" transform="rotate(-90 2758.25 660.0)">20:30Z</text>
<text x="2823.05" y="660.0" font-size="16.4" fill="#262626" text-anchor="start" textLength="52.4" lengthAdjust="spacingAndGlyphs" transform="rotate(-90 2823.05 660.0)">21:00Z</text>
<text x="2887.85" y="660.0" font-size="16.4" fill="#262626" text-anchor="start" textLength="52.4" lengthAdjust="spacingAndGlyphs" transform="rotate(-90 2887.85 660.0)">21:30Z</text>
<text x="2952.65" y="660.0" font-size="16.4" fill="#262626" text-anchor="start" textLength="52.4" lengthAdjust="spacingAndGlyphs" transform="rotate(-90 2952.65 660.0)">22:00Z</text>
<text x="3017.45" y="660.0" font-size="16.4" fill="#262626" text-anchor="start" textLength="52.4" lengthAdjust="spacingAndGlyphs" transform="rotate(-90 3017.45 660.0)">22:30Z</text>
<text x="3082.25" y="660.0" font-size="16.4" fill="#262626" text-anchor="start" textLength="52.4" lengthAdjust="spacingAndGlyphs" transform="rotate(-90 3082.25 660.0)">23:00Z</text>
<text x="3147.05" y="660.0" font-size="16.4" fill="#262626" text-anchor="start" textLength="52.4" lengthAdjust="spacingAndGlyphs" transform="rotate(-90 3147.05 660.0)">23:30Z</text>
<text x="1646.5" y="680.7" font-size="22.3" fill="#262626" text-anchor="middle" textLength="124.8" lengthAdjust="spacingAndGlyphs">Time of Day</text>
<text x="24.5" y="322.8" font-size="22.3" fill="#262626" text-anchor="middle" textLength="114.0" lengthAdjust="spacingAndGlyphs" transform="rotate(-90 24.5 322.8)">Spot Count</text>
<text x="1647" y="24.0" font-size="18" fill="#262626" text-anchor="middle" textLength="523" lengthAdjust="spacingAndGlyphs">Comparison of Spot Counts on 2026.01.23 to Previous 21 Days</text>
<text x="1647" y="44.7" font-size="18" fill="#262626" text-anchor="middle" textLength="34.7" lengthAdjust="spacingAndGlyphs">30m</text>
</svg></body></html>
